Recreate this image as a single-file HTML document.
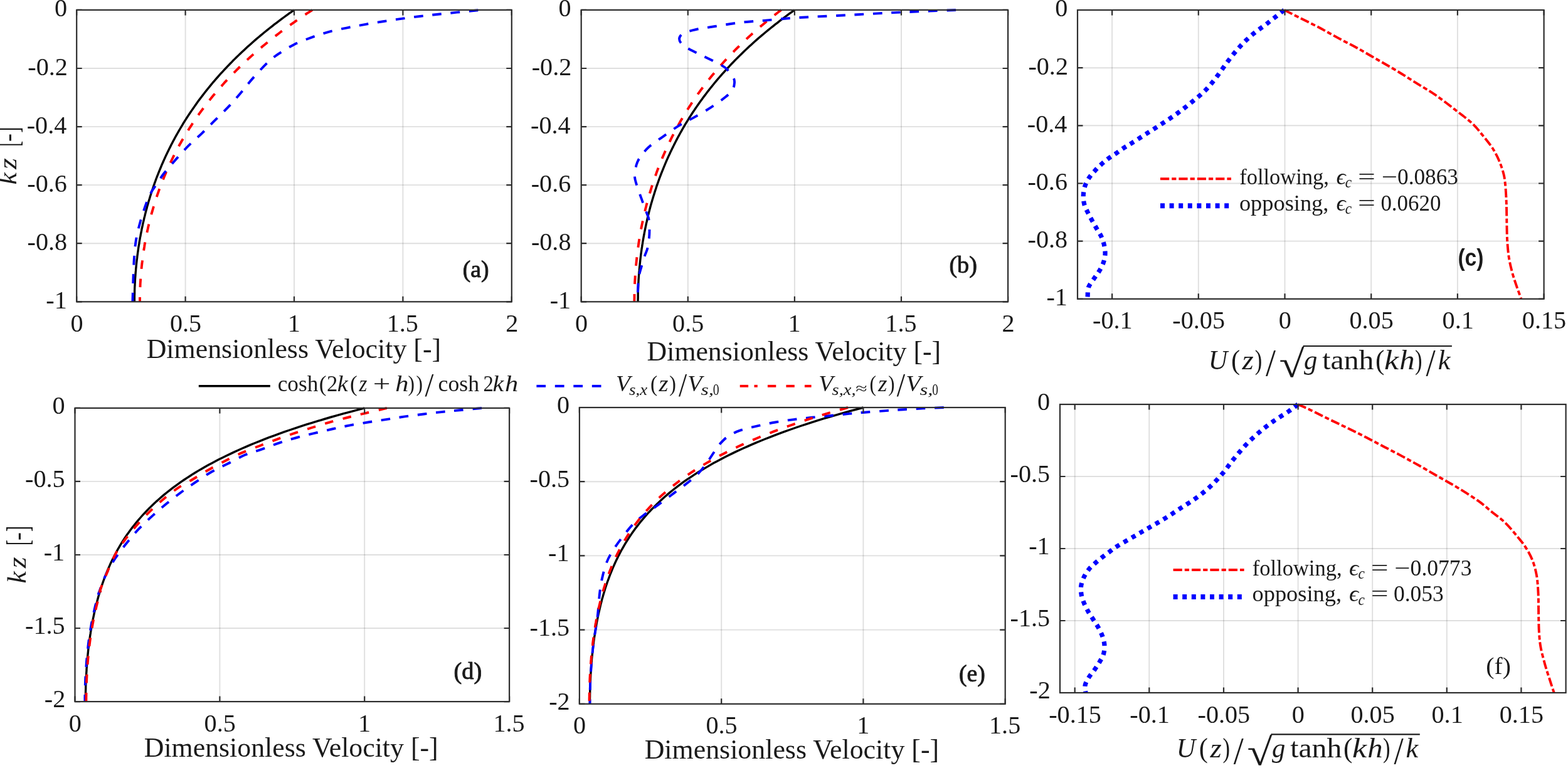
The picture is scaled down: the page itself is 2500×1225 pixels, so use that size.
<!DOCTYPE html>
<html><head><meta charset="utf-8"><title>Velocity profiles</title>
<style>html,body{margin:0;padding:0;background:#fff;overflow:hidden;}svg{display:block;}</style>
</head><body>
<svg width="2500" height="1225" viewBox="0 0 2500 1225">
<rect x="0" y="0" width="2500" height="1225" fill="#ffffff"/>
<line x1="295.6" y1="15.9" x2="295.6" y2="481.3" stroke="#262626" stroke-opacity="0.15" stroke-width="1.9"/>
<line x1="469" y1="15.9" x2="469" y2="481.3" stroke="#262626" stroke-opacity="0.15" stroke-width="1.9"/>
<line x1="642.4" y1="15.9" x2="642.4" y2="481.3" stroke="#262626" stroke-opacity="0.15" stroke-width="1.9"/>
<line x1="122.2" y1="388.2" x2="815.8" y2="388.2" stroke="#262626" stroke-opacity="0.15" stroke-width="1.9"/>
<line x1="122.2" y1="295.1" x2="815.8" y2="295.1" stroke="#262626" stroke-opacity="0.15" stroke-width="1.9"/>
<line x1="122.2" y1="202.1" x2="815.8" y2="202.1" stroke="#262626" stroke-opacity="0.15" stroke-width="1.9"/>
<line x1="122.2" y1="109" x2="815.8" y2="109" stroke="#262626" stroke-opacity="0.15" stroke-width="1.9"/>
<clipPath id="clipa"><rect x="122.2" y="12.9" width="693.6" height="468.4"/></clipPath>
<g clip-path="url(#clipa)">
<path d="M214.4 481.3 L214.4 478.4 L214.4 475.5 L214.4 472.6 L214.5 469.7 L214.6 466.8 L214.6 463.8 L214.7 460.9 L214.8 458 L215 455.1 L215.1 452.2 L215.3 449.3 L215.4 446.4 L215.6 443.5 L215.8 440.6 L216 437.7 L216.2 434.8 L216.5 431.9 L216.7 428.9 L217 426 L217.3 423.1 L217.6 420.2 L217.9 417.3 L218.2 414.4 L218.6 411.5 L218.9 408.6 L219.3 405.7 L219.7 402.8 L220.1 399.9 L220.5 396.9 L220.9 394 L221.4 391.1 L221.9 388.2 L222.3 385.3 L222.8 382.4 L223.3 379.5 L223.9 376.6 L224.4 373.7 L225 370.8 L225.6 367.9 L226.1 364.9 L226.8 362 L227.4 359.1 L228 356.2 L228.7 353.3 L229.4 350.4 L230 347.5 L230.8 344.6 L231.5 341.7 L232.2 338.8 L233 335.9 L233.8 333 L234.5 330 L235.4 327.1 L236.2 324.2 L237 321.3 L237.9 318.4 L238.8 315.5 L239.7 312.6 L240.6 309.7 L241.5 306.8 L242.5 303.9 L243.5 301 L244.5 298 L245.5 295.1 L246.5 292.2 L247.6 289.3 L248.6 286.4 L249.7 283.5 L250.8 280.6 L252 277.7 L253.1 274.8 L254.3 271.9 L255.5 269 L256.7 266.1 L257.9 263.1 L259.2 260.2 L260.5 257.3 L261.8 254.4 L263.1 251.5 L264.4 248.6 L265.8 245.7 L267.2 242.8 L268.6 239.9 L270 237 L271.5 234.1 L273 231.1 L274.5 228.2 L276 225.3 L277.6 222.4 L279.1 219.5 L280.7 216.6 L282.4 213.7 L284 210.8 L285.7 207.9 L287.4 205 L289.1 202.1 L290.9 199.2 L292.6 196.2 L294.4 193.3 L296.3 190.4 L298.1 187.5 L300 184.6 L301.9 181.7 L303.9 178.8 L305.9 175.9 L307.9 173 L309.9 170.1 L311.9 167.2 L314 164.2 L316.1 161.3 L318.3 158.4 L320.5 155.5 L322.7 152.6 L324.9 149.7 L327.2 146.8 L329.5 143.9 L331.8 141 L334.2 138.1 L336.6 135.2 L339 132.2 L341.5 129.3 L344 126.4 L346.6 123.5 L349.1 120.6 L351.7 117.7 L354.4 114.8 L357.1 111.9 L359.8 109 L362.5 106.1 L365.3 103.2 L368.2 100.3 L371 97.3 L374 94.4 L376.9 91.5 L379.9 88.6 L382.9 85.7 L386 82.8 L389.1 79.9 L392.2 77 L395.4 74.1 L398.7 71.2 L402 68.3 L405.3 65.3 L408.6 62.4 L412.1 59.5 L415.5 56.6 L419 53.7 L422.6 50.8 L426.2 47.9 L429.8 45 L433.5 42.1 L437.2 39.2 L441 36.3 L444.9 33.4 L448.8 30.4 L452.7 27.5 L456.7 24.6 L460.7 21.7 L464.8 18.8 L469 15.9" fill="none" stroke="#000" stroke-width="3.4" stroke-linejoin="round" stroke-linecap="butt"/>
<path d="M498 15.9 L493.5 18.8 L489 21.7 L484.7 24.6 L480.4 27.5 L476.1 30.4 L471.9 33.4 L467.8 36.3 L463.7 39.2 L459.6 42.1 L455.6 45 L451.7 47.9 L447.8 50.8 L444 53.7 L440.2 56.6 L436.5 59.5 L432.8 62.4 L429.1 65.3 L425.6 68.3 L422 71.2 L418.5 74.1 L415.1 77 L411.7 79.9 L408.3 82.8 L405 85.7 L401.7 88.6 L398.5 91.5 L395.3 94.4 L392.2 97.3 L389.1 100.3 L386 103.2 L383 106.1 L380 109 L377.1 111.9 L374.2 114.8 L371.3 117.7 L368.5 120.6 L365.7 123.5 L363 126.4 L360.3 129.3 L357.6 132.2 L355 135.2 L352.4 138.1 L349.8 141 L347.3 143.9 L344.8 146.8 L342.4 149.7 L339.9 152.6 L337.5 155.5 L335.2 158.4 L332.9 161.3 L330.6 164.2 L328.3 167.2 L326.1 170.1 L323.9 173 L321.8 175.9 L319.6 178.8 L317.5 181.7 L315.5 184.6 L313.4 187.5 L311.4 190.4 L309.4 193.3 L307.5 196.2 L305.6 199.2 L303.7 202.1 L301.8 205 L300 207.9 L298.2 210.8 L296.4 213.7 L294.6 216.6 L292.9 219.5 L291.2 222.4 L289.5 225.3 L287.9 228.2 L286.2 231.1 L284.7 234.1 L283.1 237 L281.5 239.9 L280 242.8 L278.5 245.7 L277 248.6 L275.6 251.5 L274.2 254.4 L272.8 257.3 L271.4 260.2 L270 263.1 L268.7 266.1 L267.4 269 L266.1 271.9 L264.8 274.8 L263.6 277.7 L262.4 280.6 L261.2 283.5 L260 286.4 L258.8 289.3 L257.7 292.2 L256.6 295.1 L255.5 298 L254.4 301 L253.3 303.9 L252.3 306.8 L251.3 309.7 L250.3 312.6 L249.3 315.5 L248.4 318.4 L247.4 321.3 L246.5 324.2 L245.6 327.1 L244.8 330 L243.9 333 L243.1 335.9 L242.2 338.8 L241.4 341.7 L240.6 344.6 L239.9 347.5 L239.1 350.4 L238.4 353.3 L237.7 356.2 L237 359.1 L236.3 362 L235.7 364.9 L235 367.9 L234.4 370.8 L233.8 373.7 L233.2 376.6 L232.6 379.5 L232.1 382.4 L231.6 385.3 L231 388.2 L230.5 391.1 L230.1 394 L229.6 396.9 L229.1 399.9 L228.7 402.8 L228.3 405.7 L227.9 408.6 L227.5 411.5 L227.1 414.4 L226.8 417.3 L226.4 420.2 L226.1 423.1 L225.8 426 L225.5 428.9 L225.2 431.9 L225 434.8 L224.7 437.7 L224.5 440.6 L224.3 443.5 L224.1 446.4 L223.9 449.3 L223.7 452.2 L223.6 455.1 L223.5 458 L223.3 460.9 L223.2 463.8 L223.2 466.8 L223.1 469.7 L223 472.6 L223 475.5 L223 478.4 L223 481.3" fill="none" stroke="#ff0000" stroke-width="3.9" stroke-linejoin="round" stroke-linecap="butt" stroke-dasharray="13.6 15.8"/>
<path d="M762.4 16.2C751.8 17.3 714.3 21.1 698.8 22.7C683.3 24.3 679.2 24.8 669.4 26C659.6 27.2 649.8 28.5 640 29.9C630.2 31.3 620.4 32.7 610.6 34.2C600.8 35.7 590.7 37.4 581.2 39.1C571.7 40.8 563 42.3 553.5 44.3C544 46.2 533.6 48.2 524.1 50.8C514.6 53.4 505.6 56.4 496.3 59.8C487.1 63.2 477.3 66.8 468.6 71.2C459.9 75.6 451.1 81.1 444.1 85.9C437.1 90.7 433.4 93.3 426.4 100C419.4 106.7 409.2 117.9 402 126.1C394.8 134.3 389.5 141.7 383.2 149C376.9 156.3 371.1 163.1 364.4 170.2C357.7 177.3 350.3 184.3 343.2 191.4C336.1 198.5 329.1 205.8 322 212.6C314.9 219.4 307.6 225.4 300.8 232.2C294 239 287.7 246.1 281.2 253.4C274.7 260.8 267 269.3 261.6 276.3C256.2 283.3 251.9 290.5 248.6 295.4C245.3 300.3 244.3 300.8 241.7 305.7C239.1 310.6 236.1 316.6 233.1 324.6C230.1 332.6 226.4 344 223.7 353.7C221 363.4 218.5 373.2 216.9 382.9C215.3 392.6 214.6 402.4 213.9 412C213.2 421.6 213 430.6 212.6 440.3C212.2 450 211.9 463.5 211.7 470.3C211.5 477.1 211.4 479.5 211.4 481.3" fill="none" stroke="#0000ff" stroke-width="3.9" stroke-linejoin="round" stroke-linecap="butt" stroke-dasharray="14.7 14.7"/>
</g>
<path d="M122.2 481.3v-8.5M122.2 15.9v8.5M295.6 481.3v-8.5M295.6 15.9v8.5M469 481.3v-8.5M469 15.9v8.5M642.4 481.3v-8.5M642.4 15.9v8.5M815.8 481.3v-8.5M815.8 15.9v8.5M122.2 481.3h8.5M815.8 481.3h-8.5M122.2 388.2h8.5M815.8 388.2h-8.5M122.2 295.1h8.5M815.8 295.1h-8.5M122.2 202.1h8.5M815.8 202.1h-8.5M122.2 109h8.5M815.8 109h-8.5M122.2 15.9h8.5M815.8 15.9h-8.5" stroke="#2d2d2d" stroke-width="2.2" fill="none"/>
<rect x="122.2" y="15.9" width="693.6" height="465.4" fill="none" stroke="#2d2d2d" stroke-width="2.2"/>
<text x="73.3" y="491.8" font-size="40.2" font-family="'Liberation Serif', 'DejaVu Serif', serif" fill="#1a1a1a">-1</text>
<text x="43.5" y="398.7" font-size="40.2" font-family="'Liberation Serif', 'DejaVu Serif', serif" fill="#1a1a1a">-0.8</text>
<text x="43.3" y="305.6" font-size="40.2" font-family="'Liberation Serif', 'DejaVu Serif', serif" fill="#1a1a1a">-0.6</text>
<text x="42.7" y="212.6" font-size="40.2" font-family="'Liberation Serif', 'DejaVu Serif', serif" fill="#1a1a1a">-0.4</text>
<text x="44.3" y="119.5" font-size="40.2" font-family="'Liberation Serif', 'DejaVu Serif', serif" fill="#1a1a1a">-0.2</text>
<text x="87.1" y="26.4" font-size="40.2" font-family="'Liberation Serif', 'DejaVu Serif', serif" fill="#1a1a1a">0</text>
<text x="112.5" y="528.9" font-size="40.2" font-family="'Liberation Serif', 'DejaVu Serif', serif" fill="#1a1a1a">0</text>
<text x="270.9" y="528.9" font-size="40.2" font-family="'Liberation Serif', 'DejaVu Serif', serif" fill="#1a1a1a">0.5</text>
<text x="458.7" y="528.9" font-size="40.2" font-family="'Liberation Serif', 'DejaVu Serif', serif" fill="#1a1a1a">1</text>
<text x="616.7" y="528.9" font-size="40.2" font-family="'Liberation Serif', 'DejaVu Serif', serif" fill="#1a1a1a">1.5</text>
<text x="806.3" y="528.9" font-size="40.2" font-family="'Liberation Serif', 'DejaVu Serif', serif" fill="#1a1a1a">2</text>
<line x1="1096.8" y1="15.9" x2="1096.8" y2="481.3" stroke="#262626" stroke-opacity="0.15" stroke-width="1.9"/>
<line x1="1266.9" y1="15.9" x2="1266.9" y2="481.3" stroke="#262626" stroke-opacity="0.15" stroke-width="1.9"/>
<line x1="1437" y1="15.9" x2="1437" y2="481.3" stroke="#262626" stroke-opacity="0.15" stroke-width="1.9"/>
<line x1="926.7" y1="388.2" x2="1607.1" y2="388.2" stroke="#262626" stroke-opacity="0.15" stroke-width="1.9"/>
<line x1="926.7" y1="295.1" x2="1607.1" y2="295.1" stroke="#262626" stroke-opacity="0.15" stroke-width="1.9"/>
<line x1="926.7" y1="202.1" x2="1607.1" y2="202.1" stroke="#262626" stroke-opacity="0.15" stroke-width="1.9"/>
<line x1="926.7" y1="109" x2="1607.1" y2="109" stroke="#262626" stroke-opacity="0.15" stroke-width="1.9"/>
<clipPath id="clipb"><rect x="926.7" y="12.9" width="680.4" height="468.4"/></clipPath>
<g clip-path="url(#clipb)">
<path d="M1017.1 481.3 L1017.1 478.4 L1017.2 475.5 L1017.2 472.6 L1017.2 469.7 L1017.3 466.8 L1017.4 463.8 L1017.5 460.9 L1017.6 458 L1017.7 455.1 L1017.8 452.2 L1018 449.3 L1018.1 446.4 L1018.3 443.5 L1018.5 440.6 L1018.7 437.7 L1018.9 434.8 L1019.2 431.9 L1019.4 428.9 L1019.7 426 L1020 423.1 L1020.3 420.2 L1020.6 417.3 L1020.9 414.4 L1021.2 411.5 L1021.6 408.6 L1021.9 405.7 L1022.3 402.8 L1022.7 399.9 L1023.1 396.9 L1023.6 394 L1024 391.1 L1024.5 388.2 L1024.9 385.3 L1025.4 382.4 L1025.9 379.5 L1026.4 376.6 L1027 373.7 L1027.5 370.8 L1028.1 367.9 L1028.7 364.9 L1029.3 362 L1029.9 359.1 L1030.5 356.2 L1031.2 353.3 L1031.8 350.4 L1032.5 347.5 L1033.2 344.6 L1033.9 341.7 L1034.6 338.8 L1035.4 335.9 L1036.1 333 L1036.9 330 L1037.7 327.1 L1038.5 324.2 L1039.4 321.3 L1040.2 318.4 L1041.1 315.5 L1042 312.6 L1042.9 309.7 L1043.8 306.8 L1044.7 303.9 L1045.7 301 L1046.6 298 L1047.6 295.1 L1048.7 292.2 L1049.7 289.3 L1050.7 286.4 L1051.8 283.5 L1052.9 280.6 L1054 277.7 L1055.1 274.8 L1056.3 271.9 L1057.5 269 L1058.6 266.1 L1059.9 263.1 L1061.1 260.2 L1062.3 257.3 L1063.6 254.4 L1064.9 251.5 L1066.2 248.6 L1067.6 245.7 L1068.9 242.8 L1070.3 239.9 L1071.7 237 L1073.2 234.1 L1074.6 231.1 L1076.1 228.2 L1077.6 225.3 L1079.1 222.4 L1080.6 219.5 L1082.2 216.6 L1083.8 213.7 L1085.4 210.8 L1087.1 207.9 L1088.7 205 L1090.4 202.1 L1092.1 199.2 L1093.9 196.2 L1095.7 193.3 L1097.5 190.4 L1099.3 187.5 L1101.1 184.6 L1103 181.7 L1104.9 178.8 L1106.9 175.9 L1108.8 173 L1110.8 170.1 L1112.8 167.2 L1114.9 164.2 L1117 161.3 L1119.1 158.4 L1121.2 155.5 L1123.4 152.6 L1125.6 149.7 L1127.8 146.8 L1130.1 143.9 L1132.3 141 L1134.7 138.1 L1137 135.2 L1139.4 132.2 L1141.8 129.3 L1144.3 126.4 L1146.8 123.5 L1149.3 120.6 L1151.9 117.7 L1154.5 114.8 L1157.1 111.9 L1159.8 109 L1162.5 106.1 L1165.2 103.2 L1168 100.3 L1170.8 97.3 L1173.7 94.4 L1176.6 91.5 L1179.5 88.6 L1182.5 85.7 L1185.5 82.8 L1188.5 79.9 L1191.6 77 L1194.7 74.1 L1197.9 71.2 L1201.1 68.3 L1204.4 65.3 L1207.7 62.4 L1211 59.5 L1214.4 56.6 L1217.9 53.7 L1221.4 50.8 L1224.9 47.9 L1228.5 45 L1232.1 42.1 L1235.8 39.2 L1239.5 36.3 L1243.2 33.4 L1247.1 30.4 L1250.9 27.5 L1254.8 24.6 L1258.8 21.7 L1262.8 18.8 L1266.9 15.9" fill="none" stroke="#000" stroke-width="3.4" stroke-linejoin="round" stroke-linecap="butt"/>
<path d="M1245.5 15.9 L1241.7 18.8 L1237.9 21.7 L1234.2 24.6 L1230.5 27.5 L1226.9 30.4 L1223.3 33.4 L1219.8 36.3 L1216.3 39.2 L1212.8 42.1 L1209.4 45 L1206.1 47.9 L1202.8 50.8 L1199.5 53.7 L1196.3 56.6 L1193.1 59.5 L1190 62.4 L1186.9 65.3 L1183.8 68.3 L1180.8 71.2 L1177.9 74.1 L1174.9 77 L1172 79.9 L1169.2 82.8 L1166.3 85.7 L1163.6 88.6 L1160.8 91.5 L1158.1 94.4 L1155.4 97.3 L1152.8 100.3 L1150.2 103.2 L1147.6 106.1 L1145.1 109 L1142.6 111.9 L1140.1 114.8 L1137.7 117.7 L1135.3 120.6 L1132.9 123.5 L1130.6 126.4 L1128.3 129.3 L1126 132.2 L1123.8 135.2 L1121.6 138.1 L1119.4 141 L1117.2 143.9 L1115.1 146.8 L1113 149.7 L1111 152.6 L1108.9 155.5 L1106.9 158.4 L1105 161.3 L1103 164.2 L1101.1 167.2 L1099.2 170.1 L1097.3 173 L1095.5 175.9 L1093.7 178.8 L1091.9 181.7 L1090.1 184.6 L1088.4 187.5 L1086.7 190.4 L1085 193.3 L1083.4 196.2 L1081.7 199.2 L1080.1 202.1 L1078.5 205 L1077 207.9 L1075.4 210.8 L1073.9 213.7 L1072.4 216.6 L1070.9 219.5 L1069.5 222.4 L1068.1 225.3 L1066.7 228.2 L1065.3 231.1 L1063.9 234.1 L1062.6 237 L1061.3 239.9 L1060 242.8 L1058.7 245.7 L1057.4 248.6 L1056.2 251.5 L1055 254.4 L1053.8 257.3 L1052.6 260.2 L1051.5 263.1 L1050.3 266.1 L1049.2 269 L1048.1 271.9 L1047 274.8 L1046 277.7 L1044.9 280.6 L1043.9 283.5 L1042.9 286.4 L1041.9 289.3 L1041 292.2 L1040 295.1 L1039.1 298 L1038.2 301 L1037.3 303.9 L1036.4 306.8 L1035.5 309.7 L1034.7 312.6 L1033.9 315.5 L1033 318.4 L1032.3 321.3 L1031.5 324.2 L1030.7 327.1 L1030 330 L1029.2 333 L1028.5 335.9 L1027.8 338.8 L1027.1 341.7 L1026.5 344.6 L1025.8 347.5 L1025.2 350.4 L1024.6 353.3 L1024 356.2 L1023.4 359.1 L1022.8 362 L1022.2 364.9 L1021.7 367.9 L1021.2 370.8 L1020.7 373.7 L1020.2 376.6 L1019.7 379.5 L1019.2 382.4 L1018.7 385.3 L1018.3 388.2 L1017.9 391.1 L1017.5 394 L1017.1 396.9 L1016.7 399.9 L1016.3 402.8 L1015.9 405.7 L1015.6 408.6 L1015.3 411.5 L1015 414.4 L1014.7 417.3 L1014.4 420.2 L1014.1 423.1 L1013.8 426 L1013.6 428.9 L1013.3 431.9 L1013.1 434.8 L1012.9 437.7 L1012.7 440.6 L1012.6 443.5 L1012.4 446.4 L1012.2 449.3 L1012.1 452.2 L1012 455.1 L1011.9 458 L1011.8 460.9 L1011.7 463.8 L1011.6 466.8 L1011.5 469.7 L1011.5 472.6 L1011.5 475.5 L1011.4 478.4 L1011.4 481.3" fill="none" stroke="#ff0000" stroke-width="3.9" stroke-linejoin="round" stroke-linecap="butt" stroke-dasharray="13.6 15.8"/>
<path d="M1524 16C1517 16.3 1496 17 1482 17.6C1468 18.2 1453.7 18.8 1440 19.4C1426.3 20 1415 20.6 1400 21.4C1385 22.2 1366.7 23.3 1350 24.2C1333.3 25.1 1315 25.8 1300 26.6C1285 27.4 1273.3 28 1260 29C1246.7 30 1233.3 31.4 1220 32.6C1206.7 33.8 1193.3 34.4 1180 36C1166.7 37.6 1151.7 40.2 1140 42C1128.3 43.8 1118.3 45.2 1110 47C1101.7 48.8 1094.5 50.5 1090 53C1085.5 55.5 1083 58.7 1083 62C1083 65.3 1085.5 69.3 1090 73C1094.5 76.7 1103.8 80.8 1110 84C1116.2 87.2 1120.3 88.9 1126.9 92.2C1133.5 95.5 1144.4 100.7 1149.7 103.7C1155 106.7 1155.4 106.8 1158.7 110.2C1162 113.6 1167.2 120.4 1169.3 124.1C1171.3 127.8 1171.3 128.9 1171 132.2C1170.7 135.5 1170.2 139.9 1167.7 143.7C1165.2 147.5 1162 150.5 1156.3 155.1C1150.6 159.7 1141.6 166.1 1133.4 171.4C1125.2 176.7 1115.5 182.3 1107.3 186.9C1099.1 191.5 1092.7 194.1 1084.5 199.1C1076.3 204.1 1066.7 211.1 1058.3 217.1C1049.9 223.1 1040.4 229 1033.9 235C1027.4 241 1022.5 248.1 1019.2 253C1015.9 257.9 1015.5 259.8 1014.3 264.4C1013.1 269 1011.8 275.8 1011.9 280.7C1012 285.6 1012.8 287.6 1014.7 293.8C1016.6 300.1 1020.5 310.7 1023.2 318.2C1025.9 325.7 1028.8 333.6 1030.7 338.9C1032.6 344.2 1033.7 344.5 1034.5 350.1C1035.3 355.7 1035.7 365.2 1035.4 372.7C1035.1 380.2 1033.8 389.3 1032.6 395.2C1031.3 401.1 1029.6 403 1027.9 408.3C1026.2 413.6 1023.8 421.5 1022.2 427.1C1020.6 432.7 1019.3 436.8 1018.5 442.1C1017.7 447.4 1017.5 452.5 1017.2 459C1016.9 465.5 1016.9 477.6 1016.8 481.3" fill="none" stroke="#0000ff" stroke-width="3.9" stroke-linejoin="round" stroke-linecap="butt" stroke-dasharray="14.7 14.7"/>
</g>
<path d="M926.7 481.3v-8.5M926.7 15.9v8.5M1096.8 481.3v-8.5M1096.8 15.9v8.5M1266.9 481.3v-8.5M1266.9 15.9v8.5M1437 481.3v-8.5M1437 15.9v8.5M1607.1 481.3v-8.5M1607.1 15.9v8.5M926.7 481.3h8.5M1607.1 481.3h-8.5M926.7 388.2h8.5M1607.1 388.2h-8.5M926.7 295.1h8.5M1607.1 295.1h-8.5M926.7 202.1h8.5M1607.1 202.1h-8.5M926.7 109h8.5M1607.1 109h-8.5M926.7 15.9h8.5M1607.1 15.9h-8.5" stroke="#2d2d2d" stroke-width="2.2" fill="none"/>
<rect x="926.7" y="15.9" width="680.4" height="465.4" fill="none" stroke="#2d2d2d" stroke-width="2.2"/>
<text x="876.7" y="491.8" font-size="40.2" font-family="'Liberation Serif', 'DejaVu Serif', serif" fill="#1a1a1a">-1</text>
<text x="846.9" y="398.7" font-size="40.2" font-family="'Liberation Serif', 'DejaVu Serif', serif" fill="#1a1a1a">-0.8</text>
<text x="846.7" y="305.6" font-size="40.2" font-family="'Liberation Serif', 'DejaVu Serif', serif" fill="#1a1a1a">-0.6</text>
<text x="846.1" y="212.6" font-size="40.2" font-family="'Liberation Serif', 'DejaVu Serif', serif" fill="#1a1a1a">-0.4</text>
<text x="847.7" y="119.5" font-size="40.2" font-family="'Liberation Serif', 'DejaVu Serif', serif" fill="#1a1a1a">-0.2</text>
<text x="890.5" y="26.4" font-size="40.2" font-family="'Liberation Serif', 'DejaVu Serif', serif" fill="#1a1a1a">0</text>
<text x="917" y="528.9" font-size="40.2" font-family="'Liberation Serif', 'DejaVu Serif', serif" fill="#1a1a1a">0</text>
<text x="1072.1" y="528.9" font-size="40.2" font-family="'Liberation Serif', 'DejaVu Serif', serif" fill="#1a1a1a">0.5</text>
<text x="1256.6" y="528.9" font-size="40.2" font-family="'Liberation Serif', 'DejaVu Serif', serif" fill="#1a1a1a">1</text>
<text x="1411.3" y="528.9" font-size="40.2" font-family="'Liberation Serif', 'DejaVu Serif', serif" fill="#1a1a1a">1.5</text>
<text x="1597.6" y="528.9" font-size="40.2" font-family="'Liberation Serif', 'DejaVu Serif', serif" fill="#1a1a1a">2</text>
<line x1="1773.1" y1="16" x2="1773.1" y2="476.8" stroke="#262626" stroke-opacity="0.15" stroke-width="1.9"/>
<line x1="1910.8" y1="16" x2="1910.8" y2="476.8" stroke="#262626" stroke-opacity="0.15" stroke-width="1.9"/>
<line x1="2048.5" y1="16" x2="2048.5" y2="476.8" stroke="#262626" stroke-opacity="0.15" stroke-width="1.9"/>
<line x1="2186.2" y1="16" x2="2186.2" y2="476.8" stroke="#262626" stroke-opacity="0.15" stroke-width="1.9"/>
<line x1="2323.9" y1="16" x2="2323.9" y2="476.8" stroke="#262626" stroke-opacity="0.15" stroke-width="1.9"/>
<line x1="1718" y1="384.6" x2="2461.6" y2="384.6" stroke="#262626" stroke-opacity="0.15" stroke-width="1.9"/>
<line x1="1718" y1="292.5" x2="2461.6" y2="292.5" stroke="#262626" stroke-opacity="0.15" stroke-width="1.9"/>
<line x1="1718" y1="200.3" x2="2461.6" y2="200.3" stroke="#262626" stroke-opacity="0.15" stroke-width="1.9"/>
<line x1="1718" y1="108.2" x2="2461.6" y2="108.2" stroke="#262626" stroke-opacity="0.15" stroke-width="1.9"/>
<clipPath id="clipc"><rect x="1718" y="13" width="743.6" height="463.8"/></clipPath>
<g clip-path="url(#clipc)">
<path d="M2047.8 16C2051.7 18 2062 23.2 2071 27.8C2080 32.4 2091.7 37.9 2102 43.3C2112.3 48.7 2122.8 54.8 2133.1 60.4C2143.4 66 2153.8 71 2164.1 76.7C2174.4 82.4 2184.8 88.5 2195.1 94.5C2205.4 100.5 2215.8 106.2 2226.1 112.4C2236.4 118.6 2246.8 125.3 2257.2 131.8C2267.5 138.3 2277.9 144.1 2288.2 151.2C2298.5 158.3 2309.4 166.8 2319.2 174.4C2329 182 2339.3 189.4 2347 196.6C2354.7 203.8 2359.6 210.5 2365.3 217.5C2371 224.5 2376.7 231.4 2381 238.4C2385.3 245.4 2388.6 252.3 2391.4 259.3C2394.2 266.3 2396.5 273.2 2398 280.2C2399.5 287.2 2399.9 293.3 2400.6 301.1C2401.2 308.9 2401.6 317.6 2401.9 327.2C2402.2 336.8 2402.2 348.9 2402.4 358.5C2402.6 368.1 2402.6 376 2403.2 384.7C2403.8 393.4 2404.5 402.5 2405.8 410.8C2407.1 419.1 2409 426.9 2411 434.3C2413 441.7 2415.2 448.1 2417.6 455.2C2420 462.3 2424.1 473.2 2425.4 476.8" fill="none" stroke="#ff0000" stroke-width="3.9" stroke-linejoin="round" stroke-linecap="butt" stroke-dasharray="14.2 4 7.2 4"/>
<path d="M2047.5 16C2043.2 19.4 2029.8 30.1 2021.6 36.5C2013.4 42.9 2005.4 47.9 1998.1 54.1C1990.8 60.3 1984 66.7 1977.5 73.7C1971 80.7 1965 88.4 1958.9 96.2C1952.9 104 1947.2 112.8 1941.2 120.7C1935.2 128.6 1929.4 136.3 1922.6 143.3C1915.8 150.3 1907.6 156.7 1900.1 162.9C1892.6 169.1 1885.3 174.8 1877.5 180.5C1869.7 186.2 1861.2 191.7 1853.1 197.1C1844.9 202.5 1836.8 207.6 1828.6 212.8C1820.4 218 1810.2 224.6 1804 228.5C1797.8 232.4 1795.7 233.4 1791.6 236.1C1787.5 238.8 1783.5 241.9 1779.4 244.7C1775.3 247.5 1771 250 1767.1 252.9C1763.2 255.8 1759.5 258.9 1755.9 262.2C1752.3 265.4 1748.9 268.8 1745.7 272.4C1742.5 275.9 1739.1 279.5 1736.5 283.5C1733.9 287.5 1731.5 291.7 1730 296.3C1728.5 300.9 1727.5 306.3 1727.3 311.2C1727.1 316.1 1727.6 321.2 1728.8 325.9C1730 330.6 1732.4 334.8 1734.5 339.2C1736.6 343.6 1739.2 348.1 1741.6 352.4C1744 356.7 1746.4 361 1748.8 365.1C1751.2 369.2 1753.9 372.9 1755.9 377.3C1757.9 381.7 1759.6 386.8 1760.6 391.6C1761.6 396.4 1762.3 401 1762 405.9C1761.7 410.8 1760.3 416.2 1758.6 420.8C1756.9 425.4 1754.3 429.6 1751.8 433.7C1749.3 437.8 1746.4 441.2 1743.7 445.3C1741 449.4 1737.1 453.6 1735.5 458.2C1733.9 462.8 1734.4 469.8 1734.1 472.9C1733.8 476 1733.8 476.1 1733.8 476.8" fill="none" stroke="#0000ff" stroke-width="7.2" stroke-linejoin="round" stroke-linecap="butt" stroke-dasharray="7 7.6"/>
</g>
<path d="M1773.1 476.8v-8.5M1773.1 16v8.5M1910.8 476.8v-8.5M1910.8 16v8.5M2048.5 476.8v-8.5M2048.5 16v8.5M2186.2 476.8v-8.5M2186.2 16v8.5M2323.9 476.8v-8.5M2323.9 16v8.5M2461.6 476.8v-8.5M2461.6 16v8.5M1718 476.8h8.5M2461.6 476.8h-8.5M1718 384.6h8.5M2461.6 384.6h-8.5M1718 292.5h8.5M2461.6 292.5h-8.5M1718 200.3h8.5M2461.6 200.3h-8.5M1718 108.2h8.5M2461.6 108.2h-8.5M1718 16h8.5M2461.6 16h-8.5" stroke="#2d2d2d" stroke-width="2.2" fill="none"/>
<rect x="1718" y="16" width="743.6" height="460.8" fill="none" stroke="#2d2d2d" stroke-width="2.2"/>
<text x="1668.4" y="487.2" font-size="40.2" font-family="'Liberation Serif', 'DejaVu Serif', serif" fill="#1a1a1a">-1</text>
<text x="1638.6" y="395" font-size="40.2" font-family="'Liberation Serif', 'DejaVu Serif', serif" fill="#1a1a1a">-0.8</text>
<text x="1638.4" y="302.9" font-size="40.2" font-family="'Liberation Serif', 'DejaVu Serif', serif" fill="#1a1a1a">-0.6</text>
<text x="1637.8" y="210.7" font-size="40.2" font-family="'Liberation Serif', 'DejaVu Serif', serif" fill="#1a1a1a">-0.4</text>
<text x="1639.4" y="118.6" font-size="40.2" font-family="'Liberation Serif', 'DejaVu Serif', serif" fill="#1a1a1a">-0.2</text>
<text x="1682.2" y="26.4" font-size="40.2" font-family="'Liberation Serif', 'DejaVu Serif', serif" fill="#1a1a1a">0</text>
<text x="1742" y="524.4" font-size="40.2" font-family="'Liberation Serif', 'DejaVu Serif', serif" fill="#1a1a1a">-0.1</text>
<text x="1869.3" y="524.4" font-size="40.2" font-family="'Liberation Serif', 'DejaVu Serif', serif" fill="#1a1a1a">-0.05</text>
<text x="2038.7" y="524.4" font-size="40.2" font-family="'Liberation Serif', 'DejaVu Serif', serif" fill="#1a1a1a">0</text>
<text x="2151.4" y="524.4" font-size="40.2" font-family="'Liberation Serif', 'DejaVu Serif', serif" fill="#1a1a1a">0.05</text>
<text x="2299.6" y="524.4" font-size="40.2" font-family="'Liberation Serif', 'DejaVu Serif', serif" fill="#1a1a1a">0.1</text>
<text x="2426.8" y="524.4" font-size="40.2" font-family="'Liberation Serif', 'DejaVu Serif', serif" fill="#1a1a1a">0.15</text>
<line x1="350.4" y1="650.9" x2="350.4" y2="1119.1" stroke="#262626" stroke-opacity="0.15" stroke-width="1.9"/>
<line x1="581.2" y1="650.9" x2="581.2" y2="1119.1" stroke="#262626" stroke-opacity="0.15" stroke-width="1.9"/>
<line x1="119.5" y1="1002" x2="812.1" y2="1002" stroke="#262626" stroke-opacity="0.15" stroke-width="1.9"/>
<line x1="119.5" y1="885" x2="812.1" y2="885" stroke="#262626" stroke-opacity="0.15" stroke-width="1.9"/>
<line x1="119.5" y1="767.9" x2="812.1" y2="767.9" stroke="#262626" stroke-opacity="0.15" stroke-width="1.9"/>
<clipPath id="clipd"><rect x="119.5" y="647.9" width="692.6" height="471.2"/></clipPath>
<g clip-path="url(#clipd)">
<path d="M136.4 1119.1 L136.4 1116.2 L136.4 1113.2 L136.5 1110.3 L136.5 1107.4 L136.5 1104.5 L136.6 1101.5 L136.7 1098.6 L136.7 1095.7 L136.8 1092.8 L136.9 1089.8 L137.1 1086.9 L137.2 1084 L137.3 1081.1 L137.5 1078.1 L137.6 1075.2 L137.8 1072.3 L138 1069.4 L138.1 1066.4 L138.4 1063.5 L138.6 1060.6 L138.8 1057.6 L139 1054.7 L139.3 1051.8 L139.5 1048.9 L139.8 1045.9 L140.1 1043 L140.4 1040.1 L140.7 1037.2 L141 1034.2 L141.4 1031.3 L141.7 1028.4 L142.1 1025.5 L142.5 1022.5 L142.9 1019.6 L143.3 1016.7 L143.7 1013.8 L144.2 1010.8 L144.6 1007.9 L145.1 1005 L145.6 1002 L146.1 999.1 L146.6 996.2 L147.2 993.3 L147.7 990.3 L148.3 987.4 L148.9 984.5 L149.5 981.6 L150.1 978.6 L150.8 975.7 L151.4 972.8 L152.1 969.9 L152.8 966.9 L153.6 964 L154.3 961.1 L155.1 958.2 L155.9 955.2 L156.7 952.3 L157.5 949.4 L158.4 946.5 L159.3 943.5 L160.2 940.6 L161.1 937.7 L162.1 934.7 L163.1 931.8 L164.1 928.9 L165.1 926 L166.2 923 L167.3 920.1 L168.5 917.2 L169.6 914.3 L170.8 911.3 L172 908.4 L173.3 905.5 L174.6 902.6 L175.9 899.6 L177.3 896.7 L178.7 893.8 L180.1 890.9 L181.6 887.9 L183.1 885 L184.7 882.1 L186.3 879.1 L187.9 876.2 L189.6 873.3 L191.3 870.4 L193.1 867.4 L194.9 864.5 L196.7 861.6 L198.6 858.7 L200.6 855.7 L202.6 852.8 L204.7 849.9 L206.8 847 L209 844 L211.2 841.1 L213.5 838.2 L215.8 835.3 L218.2 832.3 L220.7 829.4 L223.2 826.5 L225.8 823.5 L228.4 820.6 L231.2 817.7 L234 814.8 L236.8 811.8 L239.8 808.9 L242.8 806 L245.9 803.1 L249 800.1 L252.3 797.2 L255.6 794.3 L259 791.4 L262.5 788.4 L266.1 785.5 L269.8 782.6 L273.6 779.7 L277.5 776.7 L281.5 773.8 L285.5 770.9 L289.7 767.9 L294 765 L298.4 762.1 L302.9 759.2 L307.5 756.2 L312.3 753.3 L317.1 750.4 L322.1 747.5 L327.2 744.5 L332.5 741.6 L337.9 738.7 L343.4 735.8 L349 732.8 L354.8 729.9 L360.8 727 L366.9 724.1 L373.1 721.1 L379.5 718.2 L386.1 715.3 L392.8 712.4 L399.7 709.4 L406.8 706.5 L414.1 703.6 L421.5 700.6 L429.1 697.7 L437 694.8 L445 691.9 L453.2 688.9 L461.7 686 L470.3 683.1 L479.2 680.2 L488.3 677.2 L497.6 674.3 L507.2 671.4 L517 668.5 L527 665.5 L537.3 662.6 L547.9 659.7 L558.7 656.8 L569.8 653.8 L581.2 650.9" fill="none" stroke="#000" stroke-width="3.4" stroke-linejoin="round" stroke-linecap="butt"/>
<path d="M768.1 650.9C762.2 651.5 743.4 653.3 732.8 654.3C722.2 655.3 713.8 656.1 704.3 657.1C694.8 658.1 685.5 659.3 675.7 660.5C665.9 661.7 655.3 663 645.5 664.4C635.7 665.8 626.4 667.4 616.9 668.9C607.4 670.4 598.1 671.7 588.3 673.3C578.5 674.9 567.6 676.5 558.1 678.3C548.6 680.1 540.5 681.9 531.2 684C522 686.1 512.3 688.4 502.6 690.7C492.9 693 482.7 695.4 473.2 698C463.7 700.6 454.7 703.3 445.5 706.4C436.3 709.5 427.1 713.2 418 716.4C408.9 719.6 400 721.6 390.8 725.5C381.6 729.4 371.6 735.4 362.9 739.8C354.2 744.2 346.7 747.2 338.4 752C330.1 756.8 321.1 762.9 312.9 768.4C304.7 773.9 297.2 778.9 289.4 784.7C281.6 790.5 273.5 796.8 265.9 803.1C258.2 809.4 250.8 815.8 243.5 822.4C236.2 829 228.8 835.8 222 842.9C215.2 850 209 857.5 202.7 865.3C196.4 873.1 189.9 881.3 184.3 889.8C178.7 898.3 173.4 907.1 169 916.3C164.6 925.5 159.7 940 157.8 944.9C155.9 949.8 157.7 945.3 157.6 945.9C157.4 946.4 157.1 947.4 156.9 948.2C156.6 949 156.4 949.8 156.2 950.5C156 951.3 155.7 952.1 155.5 952.9C155.3 953.7 155.1 954.4 154.9 955.2C154.7 956 154.4 956.8 154.2 957.6C154 958.4 153.8 959.1 153.6 959.9C153.4 960.7 153.2 961.5 153 962.3C152.8 963 152.6 963.8 152.4 964.6C152.2 965.4 152 966.2 151.8 966.9C151.6 967.7 151.4 968.5 151.3 969.3C151.1 970.1 150.9 970.8 150.7 971.6C150.5 972.4 150.3 973.2 150.2 974C150 974.7 149.8 975.5 149.6 976.3C149.5 977.1 149.3 977.9 149.1 978.6C148.9 979.4 148.8 980.2 148.6 981C148.4 981.8 148.3 982.5 148.1 983.3C148 984.1 147.8 984.9 147.6 985.7C147.5 986.4 147.3 987.2 147.2 988C147 988.8 146.9 989.6 146.7 990.3C146.6 991.1 146.4 991.9 146.3 992.7C146.1 993.5 146 994.2 145.8 995C145.7 995.8 145.5 996.6 145.4 997.4C145.3 998.1 145.1 998.9 145 999.7C144.9 1000.5 144.7 1001.3 144.6 1002C144.5 1002.8 144.3 1003.6 144.2 1004.4C144.1 1005.2 143.9 1006 143.8 1006.7C143.7 1007.5 143.6 1008.3 143.4 1009.1C143.3 1009.9 143.2 1010.6 143.1 1011.4C143 1012.2 142.8 1013 142.7 1013.8C142.6 1014.5 142.5 1015.3 142.4 1016.1C142.3 1016.9 142.2 1017.7 142.1 1018.4C141.9 1019.2 141.8 1020 141.7 1020.8C141.6 1021.6 141.5 1022.3 141.4 1023.1C141.3 1023.9 141.2 1024.7 141.1 1025.5C141 1026.2 140.9 1027 140.8 1027.8C140.7 1028.6 140.6 1029.4 140.5 1030.1C140.4 1030.9 140.3 1031.7 140.3 1032.5C140.2 1033.3 140.1 1034 140 1034.8C139.9 1035.6 139.8 1036.4 139.7 1037.2C139.6 1037.9 139.6 1038.7 139.5 1039.5C139.4 1040.3 139.3 1041.1 139.2 1041.8C139.1 1042.6 139.1 1043.4 139 1044.2C138.9 1045 138.8 1045.7 138.8 1046.5C138.7 1047.3 138.6 1048.1 138.5 1048.9C138.5 1049.7 138.4 1050.4 138.3 1051.2C138.3 1052 138.2 1052.8 138.1 1053.6C138.1 1054.3 138 1055.1 137.9 1055.9C137.9 1056.7 137.8 1057.5 137.7 1058.2C137.7 1059 137.6 1059.8 137.6 1060.6C137.5 1061.4 137.4 1062.1 137.4 1062.9C137.3 1063.7 137.3 1064.5 137.2 1065.3C137.2 1066 137.1 1066.8 137.1 1067.6C137 1068.4 137 1069.2 136.9 1069.9C136.9 1070.7 136.8 1071.5 136.8 1072.3C136.7 1073.1 136.7 1073.8 136.6 1074.6C136.6 1075.4 136.6 1076.2 136.5 1077C136.5 1077.7 136.4 1078.5 136.4 1079.3C136.4 1080.1 136.3 1080.9 136.3 1081.6C136.2 1082.4 136.2 1083.2 136.2 1084C136.1 1084.8 136.1 1085.5 136.1 1086.3C136 1087.1 136 1087.9 136 1088.7C136 1089.4 135.9 1090.2 135.9 1091C135.9 1091.8 135.8 1092.6 135.8 1093.3C135.8 1094.1 135.8 1094.9 135.7 1095.7C135.7 1096.5 135.7 1097.3 135.7 1098C135.7 1098.8 135.6 1099.6 135.6 1100.4C135.6 1101.2 135.6 1101.9 135.6 1102.7C135.6 1103.5 135.5 1104.3 135.5 1105.1C135.5 1105.8 135.5 1106.6 135.5 1107.4C135.5 1108.2 135.5 1109 135.5 1109.7C135.5 1110.5 135.4 1111.3 135.4 1112.1C135.4 1112.9 135.4 1113.6 135.4 1114.4C135.4 1115.2 135.4 1116 135.4 1116.8C135.4 1117.5 135.4 1118.7 135.4 1119.1" fill="none" stroke="#0000ff" stroke-width="3.9" stroke-linejoin="round" stroke-linecap="butt" stroke-dasharray="14.7 14.7"/>
<path d="M616.9 650.9C611 652.3 592.1 656.8 581.6 659.3C571.1 661.8 563.3 663.6 553.9 666C544.5 668.4 534.7 670.9 525.3 673.6C515.9 676.3 507 679.1 497.6 682C488.2 684.9 478.4 688.1 469 691.2C459.6 694.3 450.5 697.5 441.3 700.8C432.1 704.1 423.1 707.6 413.8 711.2C404.5 714.8 394.3 718.5 385.3 722.4C376.3 726.3 368.5 730.3 359.8 734.7C351.1 739.1 342 744.1 333.3 749C324.6 753.9 316.1 759.4 307.8 764.3C299.5 769.2 291.1 773.3 283.3 778.6C275.5 783.9 268.1 789.8 260.8 795.9C253.5 802 246.4 808.5 239.4 815.3C232.4 822.1 225.5 829.4 219 836.7C212.5 844 206.2 851.7 200.6 859.2C195 866.7 190.1 873.1 185.3 881.6C180.5 890.1 176.2 900.3 172 910.2C167.8 920.1 161.8 935.2 159.8 940.8C157.8 946.4 160.3 942.7 160.3 943.5C160.2 944.4 159.8 945.1 159.6 945.9C159.3 946.6 159.1 947.4 158.9 948.2C158.6 949 158.4 949.8 158.2 950.5C158 951.3 157.7 952.1 157.5 952.9C157.3 953.7 157.1 954.4 156.9 955.2C156.7 956 156.4 956.8 156.2 957.6C156 958.4 155.8 959.1 155.6 959.9C155.4 960.7 155.2 961.5 155 962.3C154.8 963 154.6 963.8 154.4 964.6C154.2 965.4 154 966.2 153.8 966.9C153.6 967.7 153.4 968.5 153.3 969.3C153.1 970.1 152.9 970.8 152.7 971.6C152.5 972.4 152.3 973.2 152.2 974C152 974.7 151.8 975.5 151.6 976.3C151.5 977.1 151.3 977.9 151.1 978.6C150.9 979.4 150.8 980.2 150.6 981C150.4 981.8 150.3 982.5 150.1 983.3C150 984.1 149.8 984.9 149.6 985.7C149.5 986.4 149.3 987.2 149.2 988C149 988.8 148.9 989.6 148.7 990.3C148.6 991.1 148.4 991.9 148.3 992.7C148.1 993.5 148 994.2 147.8 995C147.7 995.8 147.5 996.6 147.4 997.4C147.3 998.1 147.1 998.9 147 999.7C146.9 1000.5 146.7 1001.3 146.6 1002C146.5 1002.8 146.3 1003.6 146.2 1004.4C146.1 1005.2 145.9 1006 145.8 1006.7C145.7 1007.5 145.6 1008.3 145.4 1009.1C145.3 1009.9 145.2 1010.6 145.1 1011.4C145 1012.2 144.8 1013 144.7 1013.8C144.6 1014.5 144.5 1015.3 144.4 1016.1C144.3 1016.9 144.2 1017.7 144.1 1018.4C143.9 1019.2 143.8 1020 143.7 1020.8C143.6 1021.6 143.5 1022.3 143.4 1023.1C143.3 1023.9 143.2 1024.7 143.1 1025.5C143 1026.2 142.9 1027 142.8 1027.8C142.7 1028.6 142.6 1029.4 142.5 1030.1C142.4 1030.9 142.3 1031.7 142.3 1032.5C142.2 1033.3 142.1 1034 142 1034.8C141.9 1035.6 141.8 1036.4 141.7 1037.2C141.6 1037.9 141.6 1038.7 141.5 1039.5C141.4 1040.3 141.3 1041.1 141.2 1041.8C141.1 1042.6 141.1 1043.4 141 1044.2C140.9 1045 140.8 1045.7 140.8 1046.5C140.7 1047.3 140.6 1048.1 140.5 1048.9C140.5 1049.7 140.4 1050.4 140.3 1051.2C140.3 1052 140.2 1052.8 140.1 1053.6C140.1 1054.3 140 1055.1 139.9 1055.9C139.9 1056.7 139.8 1057.5 139.7 1058.2C139.7 1059 139.6 1059.8 139.6 1060.6C139.5 1061.4 139.4 1062.1 139.4 1062.9C139.3 1063.7 139.3 1064.5 139.2 1065.3C139.2 1066 139.1 1066.8 139.1 1067.6C139 1068.4 139 1069.2 138.9 1069.9C138.9 1070.7 138.8 1071.5 138.8 1072.3C138.7 1073.1 138.7 1073.8 138.6 1074.6C138.6 1075.4 138.6 1076.2 138.5 1077C138.5 1077.7 138.4 1078.5 138.4 1079.3C138.4 1080.1 138.3 1080.9 138.3 1081.6C138.2 1082.4 138.2 1083.2 138.2 1084C138.1 1084.8 138.1 1085.5 138.1 1086.3C138 1087.1 138 1087.9 138 1088.7C138 1089.4 137.9 1090.2 137.9 1091C137.9 1091.8 137.8 1092.6 137.8 1093.3C137.8 1094.1 137.8 1094.9 137.7 1095.7C137.7 1096.5 137.7 1097.3 137.7 1098C137.7 1098.8 137.6 1099.6 137.6 1100.4C137.6 1101.2 137.6 1101.9 137.6 1102.7C137.6 1103.5 137.5 1104.3 137.5 1105.1C137.5 1105.8 137.5 1106.6 137.5 1107.4C137.5 1108.2 137.5 1109 137.5 1109.7C137.5 1110.5 137.4 1111.3 137.4 1112.1C137.4 1112.9 137.4 1113.6 137.4 1114.4C137.4 1115.2 137.4 1116 137.4 1116.8C137.4 1117.5 137.4 1118.7 137.4 1119.1" fill="none" stroke="#ff0000" stroke-width="3.9" stroke-linejoin="round" stroke-linecap="butt" stroke-dasharray="13.6 15.8"/>
</g>
<path d="M119.5 1119.1v-8.5M119.5 650.9v8.5M350.4 1119.1v-8.5M350.4 650.9v8.5M581.2 1119.1v-8.5M581.2 650.9v8.5M812.1 1119.1v-8.5M812.1 650.9v8.5M119.5 1119.1h8.5M812.1 1119.1h-8.5M119.5 1002h8.5M812.1 1002h-8.5M119.5 885h8.5M812.1 885h-8.5M119.5 767.9h8.5M812.1 767.9h-8.5M119.5 650.9h8.5M812.1 650.9h-8.5" stroke="#2d2d2d" stroke-width="2.2" fill="none"/>
<rect x="119.5" y="650.9" width="692.6" height="468.2" fill="none" stroke="#2d2d2d" stroke-width="2.2"/>
<text x="70.8" y="1128.1" font-size="40.2" font-family="'Liberation Serif', 'DejaVu Serif', serif" fill="#1a1a1a">-2</text>
<text x="40.1" y="1011" font-size="40.2" font-family="'Liberation Serif', 'DejaVu Serif', serif" fill="#1a1a1a">-1.5</text>
<text x="69.7" y="894" font-size="40.2" font-family="'Liberation Serif', 'DejaVu Serif', serif" fill="#1a1a1a">-1</text>
<text x="40.1" y="776.9" font-size="40.2" font-family="'Liberation Serif', 'DejaVu Serif', serif" fill="#1a1a1a">-0.5</text>
<text x="83.5" y="659.9" font-size="40.2" font-family="'Liberation Serif', 'DejaVu Serif', serif" fill="#1a1a1a">0</text>
<text x="109.8" y="1166.7" font-size="40.2" font-family="'Liberation Serif', 'DejaVu Serif', serif" fill="#1a1a1a">0</text>
<text x="325.6" y="1166.7" font-size="40.2" font-family="'Liberation Serif', 'DejaVu Serif', serif" fill="#1a1a1a">0.5</text>
<text x="571" y="1166.7" font-size="40.2" font-family="'Liberation Serif', 'DejaVu Serif', serif" fill="#1a1a1a">1</text>
<text x="786.4" y="1166.7" font-size="40.2" font-family="'Liberation Serif', 'DejaVu Serif', serif" fill="#1a1a1a">1.5</text>
<line x1="1150.2" y1="650" x2="1150.2" y2="1122.8" stroke="#262626" stroke-opacity="0.15" stroke-width="1.9"/>
<line x1="1376.4" y1="650" x2="1376.4" y2="1122.8" stroke="#262626" stroke-opacity="0.15" stroke-width="1.9"/>
<line x1="923.9" y1="1004.6" x2="1602.7" y2="1004.6" stroke="#262626" stroke-opacity="0.15" stroke-width="1.9"/>
<line x1="923.9" y1="886.4" x2="1602.7" y2="886.4" stroke="#262626" stroke-opacity="0.15" stroke-width="1.9"/>
<line x1="923.9" y1="768.2" x2="1602.7" y2="768.2" stroke="#262626" stroke-opacity="0.15" stroke-width="1.9"/>
<clipPath id="clipe"><rect x="923.9" y="647" width="678.8" height="475.8"/></clipPath>
<g clip-path="url(#clipe)">
<path d="M940.5 1122.8 L940.5 1119.8 L940.5 1116.9 L940.5 1113.9 L940.6 1111 L940.6 1108 L940.7 1105.1 L940.7 1102.1 L940.8 1099.2 L940.9 1096.2 L941 1093.2 L941.1 1090.3 L941.2 1087.3 L941.4 1084.4 L941.5 1081.4 L941.7 1078.5 L941.8 1075.5 L942 1072.6 L942.2 1069.6 L942.4 1066.7 L942.6 1063.7 L942.8 1060.7 L943 1057.8 L943.3 1054.8 L943.5 1051.9 L943.8 1048.9 L944.1 1046 L944.4 1043 L944.7 1040.1 L945 1037.1 L945.4 1034.1 L945.7 1031.2 L946.1 1028.2 L946.4 1025.3 L946.8 1022.3 L947.2 1019.4 L947.6 1016.4 L948.1 1013.5 L948.5 1010.5 L949 1007.6 L949.5 1004.6 L950 1001.6 L950.5 998.7 L951 995.7 L951.5 992.8 L952.1 989.8 L952.7 986.9 L953.3 983.9 L953.9 981 L954.5 978 L955.2 975 L955.9 972.1 L956.6 969.1 L957.3 966.2 L958 963.2 L958.8 960.3 L959.5 957.3 L960.3 954.4 L961.2 951.4 L962 948.5 L962.9 945.5 L963.8 942.5 L964.7 939.6 L965.6 936.6 L966.6 933.7 L967.6 930.7 L968.6 927.8 L969.7 924.8 L970.8 921.9 L971.9 918.9 L973 916 L974.2 913 L975.4 910 L976.6 907.1 L977.9 904.1 L979.2 901.2 L980.5 898.2 L981.9 895.3 L983.3 892.3 L984.8 889.4 L986.2 886.4 L987.8 883.4 L989.3 880.5 L990.9 877.5 L992.6 874.6 L994.3 871.6 L996 868.7 L997.8 865.7 L999.6 862.8 L1001.5 859.8 L1003.4 856.8 L1005.4 853.9 L1007.4 850.9 L1009.4 848 L1011.6 845 L1013.7 842.1 L1016 839.1 L1018.3 836.2 L1020.6 833.2 L1023 830.3 L1025.5 827.3 L1028.1 824.3 L1030.7 821.4 L1033.3 818.4 L1036.1 815.5 L1038.9 812.5 L1041.8 809.6 L1044.7 806.6 L1047.7 803.7 L1050.9 800.7 L1054 797.8 L1057.3 794.8 L1060.7 791.8 L1064.1 788.9 L1067.6 785.9 L1071.2 783 L1074.9 780 L1078.7 777.1 L1082.6 774.1 L1086.6 771.2 L1090.7 768.2 L1094.9 765.2 L1099.2 762.3 L1103.7 759.3 L1108.2 756.4 L1112.8 753.4 L1117.6 750.5 L1122.5 747.5 L1127.5 744.6 L1132.6 741.6 L1137.9 738.6 L1143.3 735.7 L1148.9 732.7 L1154.5 729.8 L1160.4 726.8 L1166.3 723.9 L1172.4 720.9 L1178.7 718 L1185.2 715 L1191.8 712.1 L1198.5 709.1 L1205.5 706.1 L1212.6 703.2 L1219.9 700.2 L1227.4 697.3 L1235 694.3 L1242.9 691.4 L1251 688.4 L1259.2 685.5 L1267.7 682.5 L1276.4 679.5 L1285.3 676.6 L1294.5 673.6 L1303.8 670.7 L1313.4 667.7 L1323.3 664.8 L1333.4 661.8 L1343.8 658.9 L1354.4 655.9 L1365.3 653 L1376.4 650" fill="none" stroke="#000" stroke-width="3.4" stroke-linejoin="round" stroke-linecap="butt"/>
<path d="M1504.8 650C1499.3 650.2 1482.4 650.9 1471.7 651.4C1461 651.9 1450.2 652.6 1440.4 653.2C1430.6 653.8 1422.6 654.4 1412.8 655.1C1403 655.8 1391.3 656.7 1381.5 657.5C1371.7 658.3 1363.4 659 1353.9 659.9C1344.4 660.8 1334.3 662 1324.5 663C1314.7 664 1304.8 664.8 1295 665.8C1285.2 666.8 1275.4 667.8 1265.6 669.1C1255.8 670.4 1246 671.8 1236.2 673.5C1226.4 675.2 1216.2 677.4 1206.7 679.6C1197.2 681.8 1186.8 684.1 1179.1 686.9C1171.4 689.6 1165.9 692.6 1160.7 696.1C1155.5 699.6 1151.5 704 1147.8 708.1C1144.1 712.2 1141.3 717 1138.6 721C1135.8 725 1134.1 728 1131.3 732C1128.5 736 1125 741.1 1122 745C1119 748.9 1116.8 751.8 1113 755.5C1109.2 759.2 1105.7 762.5 1099.5 767.5C1093.3 772.5 1083.9 779.4 1075.7 785.6C1067.5 791.8 1058 799 1050.2 804.7C1042.4 810.4 1035.7 814.5 1029 819.6C1022.3 824.7 1016.3 829 1009.9 835.5C1003.5 842 996.5 851.4 990.8 858.8C985.1 866.2 980 873.4 975.9 880.1C971.8 886.8 969 892.1 966.4 899.2C963.8 906.3 961.7 915.1 960 922.5C958.3 929.9 957.4 936.3 956.4 943.7C955.4 951.1 955.1 958.6 954.3 967.1C953.5 975.6 952.1 989.6 951.5 994.7C950.9 999.8 950.9 996.6 950.7 997.5C950.5 998.4 950.4 999.1 950.3 999.9C950.1 1000.7 950 1001.4 949.9 1002.2C949.7 1003 949.6 1003.8 949.5 1004.6C949.3 1005.4 949.2 1006.2 949.1 1007C949 1007.8 948.8 1008.5 948.7 1009.3C948.6 1010.1 948.5 1010.9 948.3 1011.7C948.2 1012.5 948.1 1013.3 948 1014.1C947.9 1014.8 947.8 1015.6 947.6 1016.4C947.5 1017.2 947.4 1018 947.3 1018.8C947.2 1019.6 947.1 1020.4 947 1021.1C946.9 1021.9 946.8 1022.7 946.7 1023.5C946.6 1024.3 946.5 1025.1 946.4 1025.9C946.3 1026.7 946.2 1027.5 946.1 1028.2C946 1029 945.9 1029.8 945.8 1030.6C945.7 1031.4 945.6 1032.2 945.5 1033C945.4 1033.8 945.3 1034.5 945.2 1035.3C945.1 1036.1 945 1036.9 945 1037.7C944.9 1038.5 944.8 1039.3 944.7 1040.1C944.6 1040.8 944.5 1041.6 944.5 1042.4C944.4 1043.2 944.3 1044 944.2 1044.8C944.1 1045.6 944.1 1046.4 944 1047.2C943.9 1047.9 943.8 1048.7 943.8 1049.5C943.7 1050.3 943.6 1051.1 943.5 1051.9C943.5 1052.7 943.4 1053.5 943.3 1054.2C943.3 1055 943.2 1055.8 943.1 1056.6C943.1 1057.4 943 1058.2 942.9 1059C942.9 1059.8 942.8 1060.5 942.8 1061.3C942.7 1062.1 942.6 1062.9 942.6 1063.7C942.5 1064.5 942.5 1065.3 942.4 1066.1C942.4 1066.9 942.3 1067.6 942.3 1068.4C942.2 1069.2 942.2 1070 942.1 1070.8C942.1 1071.6 942 1072.4 942 1073.2C941.9 1073.9 941.9 1074.7 941.8 1075.5C941.8 1076.3 941.7 1077.1 941.7 1077.9C941.6 1078.7 941.6 1079.5 941.6 1080.2C941.5 1081 941.5 1081.8 941.4 1082.6C941.4 1083.4 941.4 1084.2 941.3 1085C941.3 1085.8 941.3 1086.6 941.2 1087.3C941.2 1088.1 941.2 1088.9 941.1 1089.7C941.1 1090.5 941.1 1091.3 941 1092.1C941 1092.9 941 1093.6 941 1094.4C940.9 1095.2 940.9 1096 940.9 1096.8C940.8 1097.6 940.8 1098.4 940.8 1099.2C940.8 1099.9 940.8 1100.7 940.7 1101.5C940.7 1102.3 940.7 1103.1 940.7 1103.9C940.7 1104.7 940.6 1105.5 940.6 1106.3C940.6 1107 940.6 1107.8 940.6 1108.6C940.6 1109.4 940.6 1110.2 940.6 1111C940.5 1111.8 940.5 1112.6 940.5 1113.3C940.5 1114.1 940.5 1114.9 940.5 1115.7C940.5 1116.5 940.5 1117.3 940.5 1118.1C940.5 1118.9 940.5 1119.6 940.5 1120.4C940.5 1121.2 940.5 1122.4 940.5 1122.8" fill="none" stroke="#0000ff" stroke-width="3.9" stroke-linejoin="round" stroke-linecap="butt" stroke-dasharray="14.7 14.7"/>
<path d="M1352 650 L1341.4 653 L1331.1 655.9 L1321.1 658.9 L1311.3 661.8 L1301.7 664.8 L1292.4 667.7 L1283.3 670.7 L1274.5 673.6 L1265.8 676.6 L1257.4 679.5 L1249.2 682.5 L1241.1 685.5 L1233.3 688.4 L1225.7 691.4 L1218.2 694.3 L1211 697.3 L1203.9 700.2 L1197 703.2 L1190.3 706.1 L1183.7 709.1 L1177.3 712.1 L1171.1 715 L1165 718 L1159 720.9 L1153.2 723.9 L1147.6 726.8 L1142.1 729.8 L1136.7 732.7 L1131.5 735.7 L1126.4 738.6 L1121.4 741.6 L1116.5 744.6 L1111.8 747.5 L1107.1 750.5 L1102.6 753.4 L1098.2 756.4 L1094 759.3 L1089.8 762.3 L1085.7 765.2 L1081.7 768.2 L1077.8 771.2 L1074.1 774.1 L1070.4 777.1 L1066.8 780 L1063.3 783 L1059.9 785.9 L1056.5 788.9 L1053.3 791.8 L1050.1 794.8 L1047 797.8 L1044 800.7 L1041.1 803.7 L1038.2 806.6 L1035.4 809.6 L1032.7 812.5 L1030 815.5 L1027.4 818.4 L1024.9 821.4 L1022.4 824.3 L1020 827.3 L1017.7 830.3 L1015.4 833.2 L1013.2 836.2 L1011 839.1 L1008.9 842.1 L1006.8 845 L1004.8 848 L1002.9 850.9 L1001 853.9 L999.1 856.8 L997.3 859.8 L995.5 862.8 L993.8 865.7 L992.1 868.7 L990.5 871.6 L988.9 874.6 L987.3 877.5 L985.8 880.5 L984.3 883.4 L982.9 886.4 L981.5 889.4 L980.1 892.3 L978.8 895.3 L977.5 898.2 L976.2 901.2 L975 904.1 L973.8 907.1 L972.6 910 L971.5 913 L970.4 916 L969.3 918.9 L968.2 921.9 L967.2 924.8 L966.2 927.8 L965.2 930.7 L964.3 933.7 L963.4 936.6 L962.5 939.6 L961.6 942.5 L960.8 945.5 L960 948.5 L959.2 951.4 L958.4 954.4 L957.6 957.3 L956.9 960.3 L956.2 963.2 L955.5 966.2 L954.8 969.1 L954.1 972.1 L953.5 975 L952.9 978 L952.3 981 L951.7 983.9 L951.1 986.9 L950.6 989.8 L950.1 992.8 L949.5 995.7 L949 998.7 L948.6 1001.6 L948.1 1004.6 L947.6 1007.6 L947.2 1010.5 L946.8 1013.5 L946.4 1016.4 L946 1019.4 L945.6 1022.3 L945.2 1025.3 L944.9 1028.2 L944.5 1031.2 L944.2 1034.1 L943.9 1037.1 L943.6 1040.1 L943.3 1043 L943 1046 L942.7 1048.9 L942.5 1051.9 L942.2 1054.8 L942 1057.8 L941.8 1060.7 L941.6 1063.7 L941.4 1066.7 L941.2 1069.6 L941 1072.6 L940.8 1075.5 L940.7 1078.5 L940.5 1081.4 L940.4 1084.4 L940.3 1087.3 L940.2 1090.3 L940.1 1093.2 L940 1096.2 L939.9 1099.2 L939.8 1102.1 L939.8 1105.1 L939.7 1108 L939.7 1111 L939.6 1113.9 L939.6 1116.9 L939.6 1119.8 L939.6 1122.8" fill="none" stroke="#ff0000" stroke-width="3.9" stroke-linejoin="round" stroke-linecap="butt" stroke-dasharray="13.6 15.8"/>
</g>
<path d="M923.9 1122.8v-8.5M923.9 650v8.5M1150.2 1122.8v-8.5M1150.2 650v8.5M1376.4 1122.8v-8.5M1376.4 650v8.5M1602.7 1122.8v-8.5M1602.7 650v8.5M923.9 1122.8h8.5M1602.7 1122.8h-8.5M923.9 1004.6h8.5M1602.7 1004.6h-8.5M923.9 886.4h8.5M1602.7 886.4h-8.5M923.9 768.2h8.5M1602.7 768.2h-8.5M923.9 650h8.5M1602.7 650h-8.5" stroke="#2d2d2d" stroke-width="2.2" fill="none"/>
<rect x="923.9" y="650" width="678.8" height="472.8" fill="none" stroke="#2d2d2d" stroke-width="2.2"/>
<text x="875.2" y="1131.8" font-size="40.2" font-family="'Liberation Serif', 'DejaVu Serif', serif" fill="#1a1a1a">-2</text>
<text x="844.5" y="1013.6" font-size="40.2" font-family="'Liberation Serif', 'DejaVu Serif', serif" fill="#1a1a1a">-1.5</text>
<text x="874.1" y="895.4" font-size="40.2" font-family="'Liberation Serif', 'DejaVu Serif', serif" fill="#1a1a1a">-1</text>
<text x="844.5" y="777.2" font-size="40.2" font-family="'Liberation Serif', 'DejaVu Serif', serif" fill="#1a1a1a">-0.5</text>
<text x="887.9" y="659" font-size="40.2" font-family="'Liberation Serif', 'DejaVu Serif', serif" fill="#1a1a1a">0</text>
<text x="914.1" y="1170.4" font-size="40.2" font-family="'Liberation Serif', 'DejaVu Serif', serif" fill="#1a1a1a">0</text>
<text x="1125.4" y="1170.4" font-size="40.2" font-family="'Liberation Serif', 'DejaVu Serif', serif" fill="#1a1a1a">0.5</text>
<text x="1366.2" y="1170.4" font-size="40.2" font-family="'Liberation Serif', 'DejaVu Serif', serif" fill="#1a1a1a">1</text>
<text x="1577" y="1170.4" font-size="40.2" font-family="'Liberation Serif', 'DejaVu Serif', serif" fill="#1a1a1a">1.5</text>
<line x1="1713.7" y1="645" x2="1713.7" y2="1105" stroke="#262626" stroke-opacity="0.15" stroke-width="1.9"/>
<line x1="1832.3" y1="645" x2="1832.3" y2="1105" stroke="#262626" stroke-opacity="0.15" stroke-width="1.9"/>
<line x1="1951" y1="645" x2="1951" y2="1105" stroke="#262626" stroke-opacity="0.15" stroke-width="1.9"/>
<line x1="2069.6" y1="645" x2="2069.6" y2="1105" stroke="#262626" stroke-opacity="0.15" stroke-width="1.9"/>
<line x1="2188.2" y1="645" x2="2188.2" y2="1105" stroke="#262626" stroke-opacity="0.15" stroke-width="1.9"/>
<line x1="2306.8" y1="645" x2="2306.8" y2="1105" stroke="#262626" stroke-opacity="0.15" stroke-width="1.9"/>
<line x1="2425.4" y1="645" x2="2425.4" y2="1105" stroke="#262626" stroke-opacity="0.15" stroke-width="1.9"/>
<line x1="1690" y1="990" x2="2496.6" y2="990" stroke="#262626" stroke-opacity="0.15" stroke-width="1.9"/>
<line x1="1690" y1="875" x2="2496.6" y2="875" stroke="#262626" stroke-opacity="0.15" stroke-width="1.9"/>
<line x1="1690" y1="760" x2="2496.6" y2="760" stroke="#262626" stroke-opacity="0.15" stroke-width="1.9"/>
<clipPath id="clipf"><rect x="1690" y="642" width="806.6" height="463"/></clipPath>
<g clip-path="url(#clipf)">
<path d="M2069.4 645C2072.7 646.5 2081.2 650.1 2089.4 654C2097.6 657.9 2109 663.8 2118.8 668.6C2128.6 673.4 2138.3 677.8 2148.1 682.6C2157.9 687.4 2167.7 692.3 2177.5 697.3C2187.3 702.3 2197.1 707.6 2206.9 712.7C2216.7 717.8 2226.5 722.8 2236.3 728.1C2246.1 733.4 2255.9 738.8 2265.7 744.3C2275.5 749.8 2285.2 755.6 2295 761.2C2304.8 766.8 2314.1 771.8 2324.4 778.1C2334.7 784.4 2347.9 792.5 2356.9 798.9C2365.9 805.3 2371.3 810.6 2378.5 816.4C2385.7 822.2 2393.3 827.4 2400 833.9C2406.7 840.4 2413.5 848.9 2418.9 855.4C2424.3 861.9 2428.4 866.6 2432.4 872.9C2436.4 879.2 2440.2 885.7 2443.1 893.1C2446 900.5 2448.3 908.4 2449.9 917.4C2451.5 926.4 2452.1 936.7 2452.6 947C2453.1 957.3 2452.9 969.1 2453.1 979.4C2453.3 989.7 2453.3 1000 2453.9 1009C2454.5 1018 2455 1024.7 2456.6 1033.2C2458.2 1041.7 2461.2 1052.1 2463.4 1060.2C2465.7 1068.3 2467.7 1074.3 2470.1 1081.7C2472.5 1089.1 2476.3 1100.7 2477.6 1104.5" fill="none" stroke="#ff0000" stroke-width="3.9" stroke-linejoin="round" stroke-linecap="butt" stroke-dasharray="14.2 4 7.2 4"/>
<path d="M2069.4 645C2067 646.8 2061.5 651.4 2055 655.9C2048.5 660.4 2038.5 666.1 2030.5 671.8C2022.5 677.5 2014.6 683.5 2007.2 689.9C1999.8 696.3 1992.7 702.9 1986 710C1979.3 717.1 1973.1 724.7 1966.9 732.3C1960.7 739.9 1955.3 748.2 1948.9 755.6C1942.5 763 1935.8 770.4 1928.7 776.9C1921.6 783.4 1914.2 789.2 1906.4 794.9C1898.6 800.5 1890.1 805.5 1882 810.8C1873.9 816.1 1865.9 821.6 1857.6 826.7C1849.3 831.8 1840.7 836.7 1832.2 841.6C1823.7 846.5 1815.2 851.5 1806.7 856.4C1798.2 861.3 1787.4 867.4 1781.2 871.3C1775 875.2 1773.2 876.9 1769.3 879.8C1765.4 882.7 1761.4 885.6 1757.6 888.6C1753.8 891.6 1750 894.7 1746.4 898C1742.8 901.3 1739 904.5 1736 908.2C1733 912 1730.2 916.1 1728.2 920.5C1726.2 924.9 1724.4 929.8 1723.7 934.6C1723 939.4 1723.5 944.6 1724.3 949.3C1725.1 954 1726.9 958.5 1728.8 963C1730.7 967.5 1733 971.9 1735.4 976.1C1737.8 980.4 1740.7 984.4 1743.3 988.5C1745.9 992.6 1748.7 996.5 1751.1 1000.8C1753.5 1005.1 1756 1009.9 1757.6 1014.5C1759.2 1019.1 1760.6 1023.8 1760.9 1028.6C1761.2 1033.4 1760.8 1038.7 1759.5 1043.3C1758.2 1047.9 1755.5 1051.8 1753.1 1056C1750.7 1060.2 1748 1064.1 1745.2 1068.2C1742.4 1072.3 1738.5 1076.3 1736 1080.5C1733.5 1084.7 1730.9 1089.1 1730.1 1093.2C1729.3 1097.3 1730.8 1103 1731 1105" fill="none" stroke="#0000ff" stroke-width="7.2" stroke-linejoin="round" stroke-linecap="butt" stroke-dasharray="7 7.6"/>
</g>
<path d="M1713.7 1105v-8.5M1713.7 645v8.5M1832.3 1105v-8.5M1832.3 645v8.5M1951 1105v-8.5M1951 645v8.5M2069.6 1105v-8.5M2069.6 645v8.5M2188.2 1105v-8.5M2188.2 645v8.5M2306.8 1105v-8.5M2306.8 645v8.5M2425.4 1105v-8.5M2425.4 645v8.5M1690 1105h8.5M2496.6 1105h-8.5M1690 990h8.5M2496.6 990h-8.5M1690 875h8.5M2496.6 875h-8.5M1690 760h8.5M2496.6 760h-8.5M1690 645h8.5M2496.6 645h-8.5" stroke="#2d2d2d" stroke-width="2.2" fill="none"/>
<rect x="1690" y="645" width="806.6" height="460" fill="none" stroke="#2d2d2d" stroke-width="2.2"/>
<text x="1641.3" y="1114.2" font-size="40.2" font-family="'Liberation Serif', 'DejaVu Serif', serif" fill="#1a1a1a">-2</text>
<text x="1610.6" y="999.2" font-size="40.2" font-family="'Liberation Serif', 'DejaVu Serif', serif" fill="#1a1a1a">-1.5</text>
<text x="1640.2" y="884.2" font-size="40.2" font-family="'Liberation Serif', 'DejaVu Serif', serif" fill="#1a1a1a">-1</text>
<text x="1610.6" y="769.2" font-size="40.2" font-family="'Liberation Serif', 'DejaVu Serif', serif" fill="#1a1a1a">-0.5</text>
<text x="1654" y="654.2" font-size="40.2" font-family="'Liberation Serif', 'DejaVu Serif', serif" fill="#1a1a1a">0</text>
<text x="1672.2" y="1152.6" font-size="40.2" font-family="'Liberation Serif', 'DejaVu Serif', serif" fill="#1a1a1a">-0.15</text>
<text x="1801.3" y="1152.6" font-size="40.2" font-family="'Liberation Serif', 'DejaVu Serif', serif" fill="#1a1a1a">-0.1</text>
<text x="1909.5" y="1152.6" font-size="40.2" font-family="'Liberation Serif', 'DejaVu Serif', serif" fill="#1a1a1a">-0.05</text>
<text x="2059.8" y="1152.6" font-size="40.2" font-family="'Liberation Serif', 'DejaVu Serif', serif" fill="#1a1a1a">0</text>
<text x="2153.4" y="1152.6" font-size="40.2" font-family="'Liberation Serif', 'DejaVu Serif', serif" fill="#1a1a1a">0.05</text>
<text x="2282.5" y="1152.6" font-size="40.2" font-family="'Liberation Serif', 'DejaVu Serif', serif" fill="#1a1a1a">0.1</text>
<text x="2390.7" y="1152.6" font-size="40.2" font-family="'Liberation Serif', 'DejaVu Serif', serif" fill="#1a1a1a">0.15</text>
<text x="233.7" y="571" font-size="44" font-family="'Liberation Serif', 'DejaVu Serif', serif" fill="#1a1a1a" textLength="469.48" lengthAdjust="spacingAndGlyphs">Dimensionless Velocity [-]</text>
<text x="1031.6" y="574.5" font-size="44" font-family="'Liberation Serif', 'DejaVu Serif', serif" fill="#1a1a1a" textLength="468.57" lengthAdjust="spacingAndGlyphs">Dimensionless Velocity [-]</text>
<text x="229.8" y="1207" font-size="44" font-family="'Liberation Serif', 'DejaVu Serif', serif" fill="#1a1a1a" textLength="468.87" lengthAdjust="spacingAndGlyphs">Dimensionless Velocity [-]</text>
<text x="1027.7" y="1210" font-size="44" font-family="'Liberation Serif', 'DejaVu Serif', serif" fill="#1a1a1a" textLength="469.48" lengthAdjust="spacingAndGlyphs">Dimensionless Velocity [-]</text>
<text x="1926.8" y="588.5" font-size="44" font-family="'Liberation Serif', 'DejaVu Serif', serif" font-style="italic" fill="#1a1a1a" textLength="30.36" lengthAdjust="spacingAndGlyphs">U</text>
<text x="1962.9" y="588.5" font-size="44" font-family="'Liberation Serif', 'DejaVu Serif', serif" fill="#1a1a1a" textLength="14.11" lengthAdjust="spacingAndGlyphs">(</text>
<text x="1980.5" y="588.5" font-size="44" font-family="'Liberation Serif', 'DejaVu Serif', serif" font-style="italic" fill="#1a1a1a" textLength="18.19" lengthAdjust="spacingAndGlyphs">z</text>
<text x="2000.7" y="588.5" font-size="44" font-family="'Liberation Serif', 'DejaVu Serif', serif" fill="#1a1a1a" textLength="11.53" lengthAdjust="spacingAndGlyphs">)</text>
<text x="2017.9" y="598.7" font-size="61.8" font-family="'Liberation Serif', 'DejaVu Serif', serif" fill="#1a1a1a" textLength="15.97" lengthAdjust="spacingAndGlyphs">/</text>
<text x="2039.5" y="600.7" font-size="61" font-family="'Liberation Serif', 'DejaVu Serif', serif" fill="#1a1a1a" textLength="39.93" lengthAdjust="spacingAndGlyphs">√</text>
<line x1="2077.5" y1="552" x2="2314.9" y2="552" stroke="#1a1a1a" stroke-width="2.2"/>
<text x="2079" y="588.5" font-size="44" font-family="'Liberation Serif', 'DejaVu Serif', serif" font-style="italic" fill="#1a1a1a" textLength="21.28" lengthAdjust="spacingAndGlyphs">g</text>
<text x="2108.3" y="588.5" font-size="44" font-family="'Liberation Serif', 'DejaVu Serif', serif" fill="#1a1a1a" textLength="82.03" lengthAdjust="spacingAndGlyphs">tanh</text>
<text x="2193.1" y="588.5" font-size="44" font-family="'Liberation Serif', 'DejaVu Serif', serif" fill="#1a1a1a" textLength="14.37" lengthAdjust="spacingAndGlyphs">(</text>
<text x="2207.1" y="588.5" font-size="44" font-family="'Liberation Serif', 'DejaVu Serif', serif" font-style="italic" fill="#1a1a1a" textLength="23.02" lengthAdjust="spacingAndGlyphs">k</text>
<text x="2231.3" y="588.5" font-size="44" font-family="'Liberation Serif', 'DejaVu Serif', serif" font-style="italic" fill="#1a1a1a" textLength="24.35" lengthAdjust="spacingAndGlyphs">h</text>
<text x="2256" y="588.5" font-size="44" font-family="'Liberation Serif', 'DejaVu Serif', serif" fill="#1a1a1a" textLength="11.53" lengthAdjust="spacingAndGlyphs">)</text>
<text x="2273.5" y="598.7" font-size="61.8" font-family="'Liberation Serif', 'DejaVu Serif', serif" fill="#1a1a1a" textLength="15.18" lengthAdjust="spacingAndGlyphs">/</text>
<text x="2292.7" y="588.5" font-size="44" font-family="'Liberation Serif', 'DejaVu Serif', serif" font-style="italic" fill="#1a1a1a" textLength="19.61" lengthAdjust="spacingAndGlyphs">k</text>
<text x="1875.7" y="1207.8" font-size="44" font-family="'Liberation Serif', 'DejaVu Serif', serif" font-style="italic" fill="#1a1a1a" textLength="30.36" lengthAdjust="spacingAndGlyphs">U</text>
<text x="1911.8" y="1207.8" font-size="44" font-family="'Liberation Serif', 'DejaVu Serif', serif" fill="#1a1a1a" textLength="14.11" lengthAdjust="spacingAndGlyphs">(</text>
<text x="1929.4" y="1207.8" font-size="44" font-family="'Liberation Serif', 'DejaVu Serif', serif" font-style="italic" fill="#1a1a1a" textLength="18.19" lengthAdjust="spacingAndGlyphs">z</text>
<text x="1949.6" y="1207.8" font-size="44" font-family="'Liberation Serif', 'DejaVu Serif', serif" fill="#1a1a1a" textLength="11.53" lengthAdjust="spacingAndGlyphs">)</text>
<text x="1966.8" y="1218" font-size="61.8" font-family="'Liberation Serif', 'DejaVu Serif', serif" fill="#1a1a1a" textLength="15.97" lengthAdjust="spacingAndGlyphs">/</text>
<text x="1988.4" y="1220" font-size="61" font-family="'Liberation Serif', 'DejaVu Serif', serif" fill="#1a1a1a" textLength="39.93" lengthAdjust="spacingAndGlyphs">√</text>
<line x1="2026.4" y1="1171.3" x2="2263.8" y2="1171.3" stroke="#1a1a1a" stroke-width="2.2"/>
<text x="2027.9" y="1207.8" font-size="44" font-family="'Liberation Serif', 'DejaVu Serif', serif" font-style="italic" fill="#1a1a1a" textLength="21.28" lengthAdjust="spacingAndGlyphs">g</text>
<text x="2057.2" y="1207.8" font-size="44" font-family="'Liberation Serif', 'DejaVu Serif', serif" fill="#1a1a1a" textLength="82.03" lengthAdjust="spacingAndGlyphs">tanh</text>
<text x="2142" y="1207.8" font-size="44" font-family="'Liberation Serif', 'DejaVu Serif', serif" fill="#1a1a1a" textLength="14.37" lengthAdjust="spacingAndGlyphs">(</text>
<text x="2156" y="1207.8" font-size="44" font-family="'Liberation Serif', 'DejaVu Serif', serif" font-style="italic" fill="#1a1a1a" textLength="23.02" lengthAdjust="spacingAndGlyphs">k</text>
<text x="2180.2" y="1207.8" font-size="44" font-family="'Liberation Serif', 'DejaVu Serif', serif" font-style="italic" fill="#1a1a1a" textLength="24.35" lengthAdjust="spacingAndGlyphs">h</text>
<text x="2204.9" y="1207.8" font-size="44" font-family="'Liberation Serif', 'DejaVu Serif', serif" fill="#1a1a1a" textLength="11.53" lengthAdjust="spacingAndGlyphs">)</text>
<text x="2222.4" y="1218" font-size="61.8" font-family="'Liberation Serif', 'DejaVu Serif', serif" fill="#1a1a1a" textLength="15.18" lengthAdjust="spacingAndGlyphs">/</text>
<text x="2241.6" y="1207.8" font-size="44" font-family="'Liberation Serif', 'DejaVu Serif', serif" font-style="italic" fill="#1a1a1a" textLength="19.61" lengthAdjust="spacingAndGlyphs">k</text>
<g transform="translate(25.7 293.1) rotate(-90)">
<text x="-1.3" y="0" font-size="42.3" font-family="'Liberation Serif', 'DejaVu Serif', serif" font-style="italic" fill="#1a1a1a" textLength="19.20" lengthAdjust="spacingAndGlyphs">k</text>
<text x="23" y="0" font-size="40" font-family="'Liberation Serif', 'DejaVu Serif', serif" font-style="italic" fill="#1a1a1a" textLength="17.89" lengthAdjust="spacingAndGlyphs">z</text>
<text x="59.3" y="3.5" font-size="50.8" font-family="'Liberation Serif', 'DejaVu Serif', serif" fill="#1a1a1a" textLength="8.88" lengthAdjust="spacingAndGlyphs">[</text>
<text x="67.2" y="0" font-size="42" font-family="'Liberation Serif', 'DejaVu Serif', serif" fill="#1a1a1a" textLength="12.94" lengthAdjust="spacingAndGlyphs">-</text>
<text x="81.4" y="3.5" font-size="50.8" font-family="'Liberation Serif', 'DejaVu Serif', serif" fill="#1a1a1a" textLength="8.88" lengthAdjust="spacingAndGlyphs">]</text>
</g>
<g transform="translate(41.1 929.3) rotate(-90)">
<text x="-1.3" y="0" font-size="42.3" font-family="'Liberation Serif', 'DejaVu Serif', serif" font-style="italic" fill="#1a1a1a" textLength="19.20" lengthAdjust="spacingAndGlyphs">k</text>
<text x="23" y="0" font-size="40" font-family="'Liberation Serif', 'DejaVu Serif', serif" font-style="italic" fill="#1a1a1a" textLength="17.89" lengthAdjust="spacingAndGlyphs">z</text>
<text x="59.3" y="3.5" font-size="50.8" font-family="'Liberation Serif', 'DejaVu Serif', serif" fill="#1a1a1a" textLength="8.88" lengthAdjust="spacingAndGlyphs">[</text>
<text x="67.2" y="0" font-size="42" font-family="'Liberation Serif', 'DejaVu Serif', serif" fill="#1a1a1a" textLength="12.94" lengthAdjust="spacingAndGlyphs">-</text>
<text x="81.4" y="3.5" font-size="50.8" font-family="'Liberation Serif', 'DejaVu Serif', serif" fill="#1a1a1a" textLength="8.88" lengthAdjust="spacingAndGlyphs">]</text>
</g>
<text x="737.7" y="442.2" font-size="37.5" font-family="'Liberation Serif', 'DejaVu Serif', serif" fill="#1a1a1a" textLength="41.89" lengthAdjust="spacingAndGlyphs" stroke="#1a1a1a" stroke-width="0.9" stroke-linejoin="round">(a)</text>
<text x="1513.4" y="434.6" font-size="37.5" font-family="'Liberation Serif', 'DejaVu Serif', serif" fill="#1a1a1a" textLength="44.48" lengthAdjust="spacingAndGlyphs" stroke="#1a1a1a" stroke-width="0.9" stroke-linejoin="round">(b)</text>
<text x="2324.4" y="423.5" font-size="39.3" font-family="'Liberation Sans', 'DejaVu Sans', sans-serif" font-weight="bold" fill="#1a1a1a" textLength="41.18" lengthAdjust="spacingAndGlyphs">(c)</text>
<text x="723.4" y="1083.4" font-size="37.5" font-family="'Liberation Serif', 'DejaVu Serif', serif" fill="#1a1a1a" textLength="44.81" lengthAdjust="spacingAndGlyphs" stroke="#1a1a1a" stroke-width="0.9" stroke-linejoin="round">(d)</text>
<text x="1528.9" y="1087.4" font-size="37.6" font-family="'Liberation Serif', 'DejaVu Serif', serif" fill="#1a1a1a" textLength="41.89" lengthAdjust="spacingAndGlyphs" stroke="#1a1a1a" stroke-width="0.9" stroke-linejoin="round">(e)</text>
<text x="2369.3" y="1074.8" font-size="37.8" font-family="'Liberation Serif', 'DejaVu Serif', serif" fill="#1a1a1a" textLength="39.53" lengthAdjust="spacingAndGlyphs">(f)</text>
<line x1="316.8" y1="615.7" x2="430.8" y2="615.7" stroke="#000" stroke-width="3.4"/>
<line x1="855.4" y1="615.8" x2="870.1" y2="615.8" stroke="#0000ff" stroke-width="3.9"/>
<line x1="884.8" y1="615.8" x2="899.6" y2="615.8" stroke="#0000ff" stroke-width="3.9"/>
<line x1="914.3" y1="615.8" x2="929.1" y2="615.8" stroke="#0000ff" stroke-width="3.9"/>
<line x1="943.8" y1="615.8" x2="958.5" y2="615.8" stroke="#0000ff" stroke-width="3.9"/>
<line x1="1179.7" y1="615.8" x2="1193.1" y2="615.8" stroke="#ff0000" stroke-width="3.9"/>
<line x1="1202.5" y1="615.8" x2="1207.8" y2="615.8" stroke="#ff0000" stroke-width="3.9"/>
<line x1="1223.9" y1="615.8" x2="1237.3" y2="615.8" stroke="#ff0000" stroke-width="3.9"/>
<line x1="1253.4" y1="615.8" x2="1266.8" y2="615.8" stroke="#ff0000" stroke-width="3.9"/>
<line x1="1282.9" y1="615.8" x2="1293.6" y2="615.8" stroke="#ff0000" stroke-width="3.9"/>
<text x="442.7" y="624.4" font-size="35.5" font-family="'Liberation Serif', 'DejaVu Serif', serif" fill="#1a1a1a" textLength="64.72" lengthAdjust="spacingAndGlyphs">cosh</text>
<text x="508.8" y="624.4" font-size="35.5" font-family="'Liberation Serif', 'DejaVu Serif', serif" fill="#1a1a1a" textLength="11.75" lengthAdjust="spacingAndGlyphs">(</text>
<text x="521.1" y="624.4" font-size="35.5" font-family="'Liberation Serif', 'DejaVu Serif', serif" fill="#1a1a1a" textLength="17.37" lengthAdjust="spacingAndGlyphs">2</text>
<text x="537.8" y="624.4" font-size="35.5" font-family="'Liberation Serif', 'DejaVu Serif', serif" font-style="italic" fill="#1a1a1a" textLength="17.03" lengthAdjust="spacingAndGlyphs">k</text>
<text x="558" y="624.4" font-size="35.5" font-family="'Liberation Serif', 'DejaVu Serif', serif" fill="#1a1a1a" textLength="11.75" lengthAdjust="spacingAndGlyphs">(</text>
<text x="572.6" y="624.4" font-size="35.5" font-family="'Liberation Serif', 'DejaVu Serif', serif" font-style="italic" fill="#1a1a1a" textLength="12.84" lengthAdjust="spacingAndGlyphs">z</text>
<text x="594.8" y="624.4" font-size="35.5" font-family="'Liberation Serif', 'DejaVu Serif', serif" fill="#1a1a1a" textLength="27.77" lengthAdjust="spacingAndGlyphs">+</text>
<text x="630.2" y="624.4" font-size="35.5" font-family="'Liberation Serif', 'DejaVu Serif', serif" font-style="italic" fill="#1a1a1a" textLength="21.18" lengthAdjust="spacingAndGlyphs">h</text>
<text x="650.5" y="624.4" font-size="35.5" font-family="'Liberation Serif', 'DejaVu Serif', serif" fill="#1a1a1a" textLength="10.50" lengthAdjust="spacingAndGlyphs">)</text>
<text x="663.6" y="624.4" font-size="35.5" font-family="'Liberation Serif', 'DejaVu Serif', serif" fill="#1a1a1a" textLength="10.50" lengthAdjust="spacingAndGlyphs">)</text>
<text x="677.6" y="632.1" font-size="52.5" font-family="'Liberation Serif', 'DejaVu Serif', serif" fill="#1a1a1a" textLength="13.89" lengthAdjust="spacingAndGlyphs">/</text>
<text x="698.6" y="624.4" font-size="35.5" font-family="'Liberation Serif', 'DejaVu Serif', serif" fill="#1a1a1a" textLength="65.43" lengthAdjust="spacingAndGlyphs">cosh</text>
<text x="770.4" y="624.4" font-size="35.5" font-family="'Liberation Serif', 'DejaVu Serif', serif" fill="#1a1a1a" textLength="16.38" lengthAdjust="spacingAndGlyphs">2</text>
<text x="785.5" y="624.4" font-size="35.5" font-family="'Liberation Serif', 'DejaVu Serif', serif" font-style="italic" fill="#1a1a1a" textLength="17.75" lengthAdjust="spacingAndGlyphs">k</text>
<text x="804.9" y="624.4" font-size="35.5" font-family="'Liberation Serif', 'DejaVu Serif', serif" font-style="italic" fill="#1a1a1a" textLength="21.18" lengthAdjust="spacingAndGlyphs">h</text>
<text x="982.1" y="624.4" font-size="35.5" font-family="'Liberation Serif', 'DejaVu Serif', serif" font-style="italic" fill="#1a1a1a" textLength="22.95" lengthAdjust="spacingAndGlyphs">V</text>
<text x="1003.1" y="629.6" font-size="25" font-family="'Liberation Serif', 'DejaVu Serif', serif" font-style="italic" fill="#1a1a1a" textLength="29.15" lengthAdjust="spacingAndGlyphs">s,x</text>
<text x="1036.9" y="624.4" font-size="35.5" font-family="'Liberation Serif', 'DejaVu Serif', serif" fill="#1a1a1a" textLength="11.23" lengthAdjust="spacingAndGlyphs">(</text>
<text x="1050.6" y="624.4" font-size="35.5" font-family="'Liberation Serif', 'DejaVu Serif', serif" font-style="italic" fill="#1a1a1a" textLength="14.96" lengthAdjust="spacingAndGlyphs">z</text>
<text x="1067.2" y="624.4" font-size="35.5" font-family="'Liberation Serif', 'DejaVu Serif', serif" fill="#1a1a1a" textLength="10.63" lengthAdjust="spacingAndGlyphs">)</text>
<text x="1081.9" y="632.1" font-size="52.5" font-family="'Liberation Serif', 'DejaVu Serif', serif" fill="#1a1a1a" textLength="13.20" lengthAdjust="spacingAndGlyphs">/</text>
<text x="1096.2" y="624.4" font-size="35.5" font-family="'Liberation Serif', 'DejaVu Serif', serif" font-style="italic" fill="#1a1a1a" textLength="23.05" lengthAdjust="spacingAndGlyphs">V</text>
<text x="1117.6" y="629.6" font-size="25" font-family="'Liberation Serif', 'DejaVu Serif', serif" font-style="italic" fill="#1a1a1a" textLength="20.30" lengthAdjust="spacingAndGlyphs">s,</text>
<text x="1136.8" y="629.6" font-size="25" font-family="'Liberation Serif', 'DejaVu Serif', serif" fill="#1a1a1a" textLength="9.88" lengthAdjust="spacingAndGlyphs">0</text>
<text x="1305.3" y="624.4" font-size="35.5" font-family="'Liberation Serif', 'DejaVu Serif', serif" font-style="italic" fill="#1a1a1a" textLength="22.95" lengthAdjust="spacingAndGlyphs">V</text>
<text x="1326.6" y="629.6" font-size="25" font-family="'Liberation Serif', 'DejaVu Serif', serif" font-style="italic" fill="#1a1a1a" textLength="38.04" lengthAdjust="spacingAndGlyphs">s,x,</text>
<text x="1364.3" y="627.6" font-size="25" font-family="'Liberation Serif', 'DejaVu Serif', serif" fill="#1a1a1a" textLength="18.37" lengthAdjust="spacingAndGlyphs">≈</text>
<text x="1386.4" y="624.4" font-size="35.5" font-family="'Liberation Serif', 'DejaVu Serif', serif" fill="#1a1a1a" textLength="10.45" lengthAdjust="spacingAndGlyphs">(</text>
<text x="1400" y="624.4" font-size="35.5" font-family="'Liberation Serif', 'DejaVu Serif', serif" font-style="italic" fill="#1a1a1a" textLength="14.45" lengthAdjust="spacingAndGlyphs">z</text>
<text x="1416.3" y="624.4" font-size="35.5" font-family="'Liberation Serif', 'DejaVu Serif', serif" fill="#1a1a1a" textLength="10.25" lengthAdjust="spacingAndGlyphs">)</text>
<text x="1429.8" y="632.1" font-size="52.5" font-family="'Liberation Serif', 'DejaVu Serif', serif" fill="#1a1a1a" textLength="13.39" lengthAdjust="spacingAndGlyphs">/</text>
<text x="1444.2" y="624.4" font-size="35.5" font-family="'Liberation Serif', 'DejaVu Serif', serif" font-style="italic" fill="#1a1a1a" textLength="24.06" lengthAdjust="spacingAndGlyphs">V</text>
<text x="1466.5" y="629.6" font-size="25" font-family="'Liberation Serif', 'DejaVu Serif', serif" font-style="italic" fill="#1a1a1a" textLength="20.97" lengthAdjust="spacingAndGlyphs">s,</text>
<text x="1486.3" y="629.6" font-size="25" font-family="'Liberation Serif', 'DejaVu Serif', serif" fill="#1a1a1a" textLength="9.65" lengthAdjust="spacingAndGlyphs">0</text>
<line x1="1850" y1="285.3" x2="1963" y2="285.3" stroke="#ff0000" stroke-width="4" stroke-dasharray="14.2 4 7.2 4"/>
<line x1="1850" y1="328.3" x2="1961" y2="328.3" stroke="#0000ff" stroke-width="8" stroke-dasharray="7 7.6"/>
<text x="1976.2" y="293.8" font-size="35.5" font-family="'Liberation Serif', 'DejaVu Serif', serif" fill="#1a1a1a" textLength="142.76" lengthAdjust="spacingAndGlyphs">following,</text>
<text x="2130.5" y="293.8" font-size="35.5" font-family="'Liberation Serif', 'DejaVu Serif', serif" font-style="italic" fill="#1a1a1a" textLength="15.12" lengthAdjust="spacingAndGlyphs">ϵ</text>
<text x="2144.8" y="299" font-size="25" font-family="'Liberation Serif', 'DejaVu Serif', serif" font-style="italic" fill="#1a1a1a" textLength="10.41" lengthAdjust="spacingAndGlyphs">c</text>
<text x="2165.1" y="293.8" font-size="35.5" font-family="'Liberation Serif', 'DejaVu Serif', serif" fill="#1a1a1a" textLength="27.90" lengthAdjust="spacingAndGlyphs">=</text>
<text x="2202.5" y="293.8" font-size="35.5" font-family="'Liberation Serif', 'DejaVu Serif', serif" fill="#1a1a1a" textLength="25.35" lengthAdjust="spacingAndGlyphs">−</text>
<text x="2228" y="293.8" font-size="35.5" font-family="'Liberation Serif', 'DejaVu Serif', serif" fill="#1a1a1a" textLength="96.94" lengthAdjust="spacingAndGlyphs">0.0863</text>
<text x="1975.9" y="335.6" font-size="35.5" font-family="'Liberation Serif', 'DejaVu Serif', serif" fill="#1a1a1a" textLength="142.53" lengthAdjust="spacingAndGlyphs">opposing,</text>
<text x="2130.5" y="335.6" font-size="35.5" font-family="'Liberation Serif', 'DejaVu Serif', serif" font-style="italic" fill="#1a1a1a" textLength="15.12" lengthAdjust="spacingAndGlyphs">ϵ</text>
<text x="2144.8" y="340.8" font-size="25" font-family="'Liberation Serif', 'DejaVu Serif', serif" font-style="italic" fill="#1a1a1a" textLength="10.41" lengthAdjust="spacingAndGlyphs">c</text>
<text x="2165.1" y="335.6" font-size="35.5" font-family="'Liberation Serif', 'DejaVu Serif', serif" fill="#1a1a1a" textLength="27.90" lengthAdjust="spacingAndGlyphs">=</text>
<text x="2201.4" y="335.6" font-size="35.5" font-family="'Liberation Serif', 'DejaVu Serif', serif" fill="#1a1a1a" textLength="96.04" lengthAdjust="spacingAndGlyphs">0.0620</text>
<line x1="1870.6" y1="909.1" x2="1983.6" y2="909.1" stroke="#ff0000" stroke-width="4" stroke-dasharray="14.2 4 7.2 4"/>
<line x1="1870.6" y1="952.1" x2="1981.6" y2="952.1" stroke="#0000ff" stroke-width="8" stroke-dasharray="7 7.6"/>
<text x="1996.8" y="917.6" font-size="35.5" font-family="'Liberation Serif', 'DejaVu Serif', serif" fill="#1a1a1a" textLength="142.76" lengthAdjust="spacingAndGlyphs">following,</text>
<text x="2151.1" y="917.6" font-size="35.5" font-family="'Liberation Serif', 'DejaVu Serif', serif" font-style="italic" fill="#1a1a1a" textLength="15.12" lengthAdjust="spacingAndGlyphs">ϵ</text>
<text x="2165.4" y="922.8" font-size="25" font-family="'Liberation Serif', 'DejaVu Serif', serif" font-style="italic" fill="#1a1a1a" textLength="10.41" lengthAdjust="spacingAndGlyphs">c</text>
<text x="2185.7" y="917.6" font-size="35.5" font-family="'Liberation Serif', 'DejaVu Serif', serif" fill="#1a1a1a" textLength="27.90" lengthAdjust="spacingAndGlyphs">=</text>
<text x="2223.1" y="917.6" font-size="35.5" font-family="'Liberation Serif', 'DejaVu Serif', serif" fill="#1a1a1a" textLength="25.35" lengthAdjust="spacingAndGlyphs">−</text>
<text x="2248.6" y="917.6" font-size="35.5" font-family="'Liberation Serif', 'DejaVu Serif', serif" fill="#1a1a1a" textLength="97.87" lengthAdjust="spacingAndGlyphs">0.0773</text>
<text x="1996.5" y="959.4" font-size="35.5" font-family="'Liberation Serif', 'DejaVu Serif', serif" fill="#1a1a1a" textLength="142.53" lengthAdjust="spacingAndGlyphs">opposing,</text>
<text x="2151.1" y="959.4" font-size="35.5" font-family="'Liberation Serif', 'DejaVu Serif', serif" font-style="italic" fill="#1a1a1a" textLength="15.12" lengthAdjust="spacingAndGlyphs">ϵ</text>
<text x="2165.4" y="964.6" font-size="25" font-family="'Liberation Serif', 'DejaVu Serif', serif" font-style="italic" fill="#1a1a1a" textLength="10.41" lengthAdjust="spacingAndGlyphs">c</text>
<text x="2185.7" y="959.4" font-size="35.5" font-family="'Liberation Serif', 'DejaVu Serif', serif" fill="#1a1a1a" textLength="27.90" lengthAdjust="spacingAndGlyphs">=</text>
<text x="2222" y="959.4" font-size="35.5" font-family="'Liberation Serif', 'DejaVu Serif', serif" fill="#1a1a1a" textLength="79.76" lengthAdjust="spacingAndGlyphs">0.053</text>
</svg>
</body></html>
